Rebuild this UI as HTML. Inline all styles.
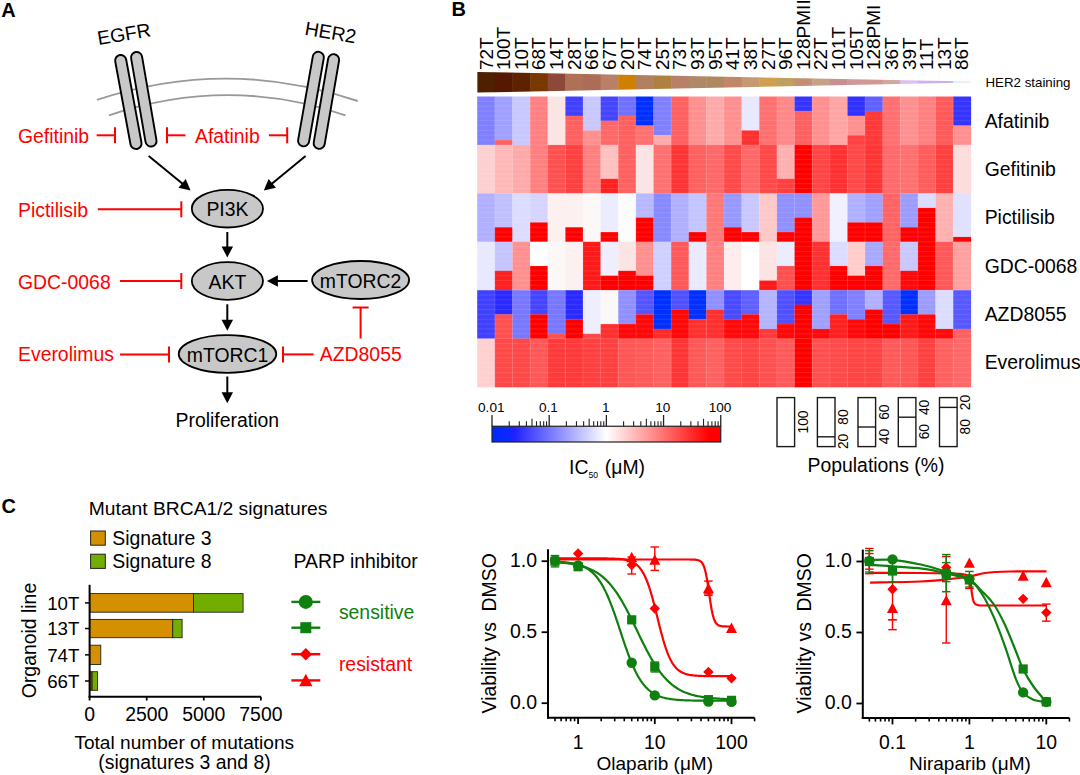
<!DOCTYPE html>
<html><head><meta charset="utf-8"><style>
html,body{margin:0;padding:0;background:#fff;}
svg{display:block;}
text{font-family:"Liberation Sans",sans-serif;}
</style></head><body>
<svg width="1080" height="775" viewBox="0 0 1080 775">
<rect width="1080" height="775" fill="#fff"/>
<text x="1.3" y="16.8" font-size="20" fill="#000" text-anchor="start" font-weight="bold">A</text>
<path d="M97,99.8 Q228,56.8 357.7,101" fill="none" stroke="#999" stroke-width="1.9"/>
<path d="M109,115.3 Q228,75.0 345.5,115.3" fill="none" stroke="#999" stroke-width="1.9"/>
<line x1="120.7" y1="60.5" x2="136" y2="143.5" stroke="#000" stroke-width="13" stroke-linecap="round"/>
<line x1="120.7" y1="60.5" x2="136" y2="143.5" stroke="#c8c8c8" stroke-width="9.2" stroke-linecap="round"/>
<line x1="136.6" y1="57.5" x2="151" y2="141" stroke="#000" stroke-width="13" stroke-linecap="round"/>
<line x1="136.6" y1="57.5" x2="151" y2="141" stroke="#c8c8c8" stroke-width="9.2" stroke-linecap="round"/>
<line x1="318.3" y1="57.3" x2="303.6" y2="140.8" stroke="#000" stroke-width="13" stroke-linecap="round"/>
<line x1="318.3" y1="57.3" x2="303.6" y2="140.8" stroke="#c8c8c8" stroke-width="9.2" stroke-linecap="round"/>
<line x1="333.6" y1="59.7" x2="319.2" y2="143.3" stroke="#000" stroke-width="13" stroke-linecap="round"/>
<line x1="333.6" y1="59.7" x2="319.2" y2="143.3" stroke="#c8c8c8" stroke-width="9.2" stroke-linecap="round"/>
<text x="124.0" y="40.7" font-size="19.4" fill="#000" text-anchor="middle" transform="rotate(-9.5 124.0 34.5)">EGFR</text>
<text x="330.5" y="39.2" font-size="19.4" fill="#000" text-anchor="middle" transform="rotate(9.6 330.5 32.8)">HER2</text>
<text x="18.0" y="142.5" font-size="19.4" fill="#ff0000" text-anchor="start" >Gefitinib</text>
<line x1="96.6" y1="135.3" x2="115.0" y2="135.3" stroke="#f00" stroke-width="2" />
<line x1="115.0" y1="143.3" x2="115.0" y2="127.30000000000001" stroke="#f00" stroke-width="2" />
<line x1="185.4" y1="135.3" x2="167" y2="135.3" stroke="#f00" stroke-width="2" />
<line x1="167.0" y1="127.30000000000001" x2="167.0" y2="143.3" stroke="#f00" stroke-width="2" />
<text x="195.0" y="142.5" font-size="19.4" fill="#ff0000" text-anchor="start" >Afatinib</text>
<line x1="268.9" y1="135.3" x2="287.2" y2="135.3" stroke="#f00" stroke-width="2" />
<line x1="287.2" y1="143.3" x2="287.2" y2="127.30000000000001" stroke="#f00" stroke-width="2" />
<line x1="148.7" y1="156" x2="182.87112209875716" y2="184.0545727970703" stroke="#000" stroke-width="2" />
<path d="M190.60,190.40 L178.45,187.86 L185.75,178.98 Z" fill="#000"/>
<line x1="305.6" y1="156" x2="271.5214348095183" y2="184.04551776441554" stroke="#000" stroke-width="2" />
<path d="M263.80,190.40 L268.64,178.97 L275.95,187.85 Z" fill="#000"/>
<ellipse cx="227.4" cy="208.7" rx="35.6" ry="18.8" fill="#c8c8c8" stroke="#000" stroke-width="1.8"/>
<text x="227.4" y="216.2" font-size="19.4" fill="#000" text-anchor="middle" >PI3K</text>
<text x="18.0" y="216.5" font-size="19.4" fill="#ff0000" text-anchor="start" >Pictilisib</text>
<line x1="97.8" y1="209.3" x2="181.3" y2="209.3" stroke="#f00" stroke-width="2" />
<line x1="181.3" y1="217.3" x2="181.3" y2="201.3" stroke="#f00" stroke-width="2" />
<line x1="227.3" y1="232" x2="227.3" y2="247.39999999999998" stroke="#000" stroke-width="2" />
<path d="M227.30,257.40 L221.55,246.40 L233.05,246.40 Z" fill="#000"/>
<ellipse cx="227.4" cy="281" rx="35.6" ry="18.8" fill="#c8c8c8" stroke="#000" stroke-width="1.8"/>
<text x="227.4" y="288.5" font-size="19.4" fill="#000" text-anchor="middle" >AKT</text>
<text x="18.0" y="289" font-size="19.4" fill="#ff0000" text-anchor="start" >GDC-0068</text>
<line x1="120" y1="281" x2="181.3" y2="281" stroke="#f00" stroke-width="2" />
<line x1="181.3" y1="289.0" x2="181.3" y2="273.0" stroke="#f00" stroke-width="2" />
<ellipse cx="360.6" cy="280" rx="48.5" ry="19" fill="#c8c8c8" stroke="#000" stroke-width="1.8"/>
<text x="360.6" y="287.5" font-size="19.4" fill="#000" text-anchor="middle" >mTORC2</text>
<line x1="307.6" y1="281" x2="276.9" y2="281.0" stroke="#000" stroke-width="2" />
<path d="M266.90,281.00 L277.90,275.25 L277.90,286.75 Z" fill="#000"/>
<line x1="360.6" y1="338.5" x2="360.6" y2="307.5" stroke="#f00" stroke-width="2" />
<line x1="368.6" y1="307.5" x2="352.6" y2="307.5" stroke="#f00" stroke-width="2" />
<line x1="227.3" y1="304.3" x2="227.3" y2="320.7" stroke="#000" stroke-width="2" />
<path d="M227.30,330.70 L221.55,319.70 L233.05,319.70 Z" fill="#000"/>
<ellipse cx="227.5" cy="354" rx="48.8" ry="18.8" fill="#c8c8c8" stroke="#000" stroke-width="1.8"/>
<text x="227.5" y="361.5" font-size="19.4" fill="#000" text-anchor="middle" >mTORC1</text>
<text x="18.0" y="361" font-size="19.4" fill="#ff0000" text-anchor="start" >Everolimus</text>
<line x1="120" y1="354.4" x2="169" y2="354.4" stroke="#f00" stroke-width="2" />
<line x1="169.0" y1="362.4" x2="169.0" y2="346.4" stroke="#f00" stroke-width="2" />
<text x="319.8" y="361" font-size="19.4" fill="#ff0000" text-anchor="start" >AZD8055</text>
<line x1="313.7" y1="354.4" x2="283" y2="354.4" stroke="#f00" stroke-width="2" />
<line x1="283.0" y1="346.4" x2="283.0" y2="362.4" stroke="#f00" stroke-width="2" />
<line x1="227.3" y1="376.5" x2="227.3" y2="393.3" stroke="#000" stroke-width="2" />
<path d="M227.30,403.30 L221.55,392.30 L233.05,392.30 Z" fill="#000"/>
<text x="227.3" y="427.4" font-size="19.4" fill="#000" text-anchor="middle" >Proliferation</text>
<text x="451.5" y="16.2" font-size="20" fill="#000" text-anchor="start" font-weight="bold">B</text>
<text transform="translate(492.51,70.1) rotate(-90)" font-size="19" fill="#000">72T</text>
<text transform="translate(510.14,70.1) rotate(-90)" font-size="19" fill="#000">100T</text>
<text transform="translate(527.77,70.1) rotate(-90)" font-size="19" fill="#000">10T</text>
<text transform="translate(545.40,70.1) rotate(-90)" font-size="19" fill="#000">68T</text>
<text transform="translate(563.03,70.1) rotate(-90)" font-size="19" fill="#000">14T</text>
<text transform="translate(580.66,70.1) rotate(-90)" font-size="19" fill="#000">28T</text>
<text transform="translate(598.29,70.1) rotate(-90)" font-size="19" fill="#000">66T</text>
<text transform="translate(615.91,70.1) rotate(-90)" font-size="19" fill="#000">67T</text>
<text transform="translate(633.54,70.1) rotate(-90)" font-size="19" fill="#000">20T</text>
<text transform="translate(651.17,70.1) rotate(-90)" font-size="19" fill="#000">74T</text>
<text transform="translate(668.80,70.1) rotate(-90)" font-size="19" fill="#000">25T</text>
<text transform="translate(686.43,70.1) rotate(-90)" font-size="19" fill="#000">73T</text>
<text transform="translate(704.06,70.1) rotate(-90)" font-size="19" fill="#000">93T</text>
<text transform="translate(721.69,70.1) rotate(-90)" font-size="19" fill="#000">95T</text>
<text transform="translate(739.31,70.1) rotate(-90)" font-size="19" fill="#000">41T</text>
<text transform="translate(756.94,70.1) rotate(-90)" font-size="19" fill="#000">38T</text>
<text transform="translate(774.57,70.1) rotate(-90)" font-size="19" fill="#000">27T</text>
<text transform="translate(792.20,70.1) rotate(-90)" font-size="19" fill="#000">96T</text>
<text transform="translate(809.83,70.1) rotate(-90)" font-size="19" fill="#000">128PMII</text>
<text transform="translate(827.46,70.1) rotate(-90)" font-size="19" fill="#000">22T</text>
<text transform="translate(845.09,70.1) rotate(-90)" font-size="19" fill="#000">101T</text>
<text transform="translate(862.71,70.1) rotate(-90)" font-size="19" fill="#000">105T</text>
<text transform="translate(880.34,70.1) rotate(-90)" font-size="19" fill="#000">128PMI</text>
<text transform="translate(897.97,70.1) rotate(-90)" font-size="19" fill="#000">36T</text>
<text transform="translate(915.60,70.1) rotate(-90)" font-size="19" fill="#000">39T</text>
<text transform="translate(933.23,70.1) rotate(-90)" font-size="19" fill="#000">11T</text>
<text transform="translate(950.86,70.1) rotate(-90)" font-size="19" fill="#000">13T</text>
<text transform="translate(968.49,70.1) rotate(-90)" font-size="19" fill="#000">86T</text>
<clipPath id="wedge"><polygon points="477.2,71.9 970.8,81.6 970.8,82.6 477.2,92.6"/></clipPath>
<g clip-path="url(#wedge)">
<rect x="477.20" y="70" width="18.03" height="24" fill="#4e2000"/>
<rect x="494.83" y="70" width="18.03" height="24" fill="#561800"/>
<rect x="512.46" y="70" width="18.03" height="24" fill="#5e2200"/>
<rect x="530.09" y="70" width="18.03" height="24" fill="#783800"/>
<rect x="547.71" y="70" width="18.03" height="24" fill="#8c4838"/>
<rect x="565.34" y="70" width="18.03" height="24" fill="#b07058"/>
<rect x="582.97" y="70" width="18.03" height="24" fill="#ac6c58"/>
<rect x="600.60" y="70" width="18.03" height="24" fill="#b88068"/>
<rect x="618.23" y="70" width="18.03" height="24" fill="#d08000"/>
<rect x="635.86" y="70" width="18.03" height="24" fill="#b08060"/>
<rect x="653.49" y="70" width="18.03" height="24" fill="#b08040"/>
<rect x="671.11" y="70" width="18.03" height="24" fill="#b88068"/>
<rect x="688.74" y="70" width="18.03" height="24" fill="#b08868"/>
<rect x="706.37" y="70" width="18.03" height="24" fill="#b08860"/>
<rect x="724.00" y="70" width="18.03" height="24" fill="#c08868"/>
<rect x="741.63" y="70" width="18.03" height="24" fill="#c89870"/>
<rect x="759.26" y="70" width="18.03" height="24" fill="#d0a050"/>
<rect x="776.89" y="70" width="18.03" height="24" fill="#c0a060"/>
<rect x="794.51" y="70" width="18.03" height="24" fill="#c09070"/>
<rect x="812.14" y="70" width="18.03" height="24" fill="#c8a088"/>
<rect x="829.77" y="70" width="18.03" height="24" fill="#c89090"/>
<rect x="847.40" y="70" width="18.03" height="24" fill="#d09898"/>
<rect x="865.03" y="70" width="18.03" height="24" fill="#d09890"/>
<rect x="882.66" y="70" width="18.03" height="24" fill="#d0a8a0"/>
<rect x="900.29" y="70" width="18.03" height="24" fill="#d8c0f0"/>
<rect x="917.91" y="70" width="18.03" height="24" fill="#d0b0f0"/>
<rect x="935.54" y="70" width="18.03" height="24" fill="#c8b0f0"/>
<rect x="953.17" y="70" width="18.03" height="24" fill="#e0e8f0"/>
</g>
<text x="985.5" y="86.9" font-size="13.3" fill="#000" text-anchor="start" >HER2 staining</text>
<rect x="477.20" y="96.50" width="17.93" height="48.72" fill="#8080ff"/>
<rect x="494.83" y="96.50" width="17.93" height="43.88" fill="#a0a0ff"/>
<rect x="494.83" y="140.08" width="17.93" height="5.14" fill="#ff6060"/>
<rect x="512.46" y="96.50" width="17.93" height="48.72" fill="#c8c8ff"/>
<rect x="530.09" y="96.50" width="17.93" height="48.72" fill="#ff8080"/>
<rect x="547.71" y="96.50" width="17.93" height="48.72" fill="#fae4e4"/>
<rect x="565.34" y="96.50" width="17.93" height="19.67" fill="#4040ff"/>
<rect x="565.34" y="115.87" width="17.93" height="29.35" fill="#ff6060"/>
<rect x="582.97" y="96.50" width="17.93" height="34.19" fill="#c8c8ff"/>
<rect x="582.97" y="130.39" width="17.93" height="14.83" fill="#ff9090"/>
<rect x="600.60" y="96.50" width="17.93" height="24.51" fill="#4545ff"/>
<rect x="600.60" y="120.71" width="17.93" height="24.51" fill="#ff6868"/>
<rect x="618.23" y="96.50" width="17.93" height="19.67" fill="#7070ff"/>
<rect x="618.23" y="115.87" width="17.93" height="29.35" fill="#ff6060"/>
<rect x="635.86" y="96.50" width="17.93" height="29.35" fill="#0030ff"/>
<rect x="635.86" y="125.55" width="17.93" height="19.67" fill="#ff7070"/>
<rect x="653.49" y="96.50" width="17.93" height="39.04" fill="#8080ff"/>
<rect x="653.49" y="135.24" width="17.93" height="9.98" fill="#ffaaaa"/>
<rect x="671.11" y="96.50" width="17.93" height="48.72" fill="#ff6060"/>
<rect x="688.74" y="96.50" width="17.93" height="48.72" fill="#ff9090"/>
<rect x="706.37" y="96.50" width="17.93" height="48.72" fill="#ffaaaa"/>
<rect x="724.00" y="96.50" width="17.93" height="48.72" fill="#ff9090"/>
<rect x="741.63" y="96.50" width="17.93" height="34.19" fill="#e8e8ff"/>
<rect x="741.63" y="130.39" width="17.93" height="14.83" fill="#ff3030"/>
<rect x="759.26" y="96.50" width="17.93" height="48.72" fill="#ff7070"/>
<rect x="776.89" y="96.50" width="17.93" height="48.72" fill="#ff8888"/>
<rect x="794.51" y="96.50" width="17.93" height="14.83" fill="#3535ff"/>
<rect x="794.51" y="111.03" width="17.93" height="34.19" fill="#ff6060"/>
<rect x="812.14" y="96.50" width="17.93" height="48.72" fill="#ff9090"/>
<rect x="829.77" y="96.50" width="17.93" height="48.72" fill="#ffa5a5"/>
<rect x="847.40" y="96.50" width="17.93" height="19.67" fill="#3030ff"/>
<rect x="847.40" y="115.87" width="17.93" height="19.67" fill="#ff9090"/>
<rect x="847.40" y="135.24" width="17.93" height="9.98" fill="#ff4040"/>
<rect x="865.03" y="96.50" width="17.93" height="14.83" fill="#6060ff"/>
<rect x="865.03" y="111.03" width="17.93" height="34.19" fill="#ff3838"/>
<rect x="882.66" y="96.50" width="17.93" height="48.72" fill="#ff7070"/>
<rect x="900.29" y="96.50" width="17.93" height="48.72" fill="#ff9090"/>
<rect x="917.91" y="96.50" width="17.93" height="48.72" fill="#ff8080"/>
<rect x="935.54" y="96.50" width="17.93" height="48.72" fill="#ff5a5a"/>
<rect x="953.17" y="96.50" width="17.93" height="29.35" fill="#3535ff"/>
<rect x="953.17" y="125.55" width="17.93" height="19.67" fill="#ff9090"/>
<text x="984.7" y="127.8" font-size="19.4" fill="#000" text-anchor="start" >Afatinib</text>
<rect x="477.20" y="144.92" width="17.93" height="48.72" fill="#fcd0d0"/>
<rect x="494.83" y="144.92" width="17.93" height="48.72" fill="#ffb8b8"/>
<rect x="512.46" y="144.92" width="17.93" height="48.72" fill="#ffaaaa"/>
<rect x="530.09" y="144.92" width="17.93" height="48.72" fill="#ff8080"/>
<rect x="547.71" y="144.92" width="17.93" height="48.72" fill="#ff5050"/>
<rect x="565.34" y="144.92" width="17.93" height="48.72" fill="#ff4040"/>
<rect x="582.97" y="144.92" width="17.93" height="48.72" fill="#ff8080"/>
<rect x="600.60" y="144.92" width="17.93" height="34.19" fill="#ffc0c0"/>
<rect x="600.60" y="178.81" width="17.93" height="14.83" fill="#ff2020"/>
<rect x="618.23" y="144.92" width="17.93" height="48.72" fill="#ff6060"/>
<rect x="635.86" y="144.92" width="17.93" height="48.72" fill="#fbe4e4"/>
<rect x="653.49" y="144.92" width="17.93" height="48.72" fill="#ff7070"/>
<rect x="671.11" y="144.92" width="17.93" height="48.72" fill="#ff3535"/>
<rect x="688.74" y="144.92" width="17.93" height="48.72" fill="#ff6060"/>
<rect x="706.37" y="144.92" width="17.93" height="48.72" fill="#ff6868"/>
<rect x="724.00" y="144.92" width="17.93" height="48.72" fill="#ff4a4a"/>
<rect x="741.63" y="144.92" width="17.93" height="48.72" fill="#ff6868"/>
<rect x="759.26" y="144.92" width="17.93" height="48.72" fill="#ff4848"/>
<rect x="776.89" y="144.92" width="17.93" height="34.19" fill="#ffb0b0"/>
<rect x="776.89" y="178.81" width="17.93" height="14.83" fill="#ff4040"/>
<rect x="794.51" y="144.92" width="17.93" height="48.72" fill="#ff0000"/>
<rect x="812.14" y="144.92" width="17.93" height="48.72" fill="#ff4545"/>
<rect x="829.77" y="144.92" width="17.93" height="48.72" fill="#ff3030"/>
<rect x="847.40" y="144.92" width="17.93" height="48.72" fill="#ff4848"/>
<rect x="865.03" y="144.92" width="17.93" height="48.72" fill="#ff3535"/>
<rect x="882.66" y="144.92" width="17.93" height="48.72" fill="#ff6a6a"/>
<rect x="900.29" y="144.92" width="17.93" height="48.72" fill="#ff7070"/>
<rect x="917.91" y="144.92" width="17.93" height="48.72" fill="#ff5c5c"/>
<rect x="935.54" y="144.92" width="17.93" height="48.72" fill="#ff4040"/>
<rect x="953.17" y="144.92" width="17.93" height="48.72" fill="#fcdcdc"/>
<text x="984.7" y="176.13" font-size="19.4" fill="#000" text-anchor="start" >Gefitinib</text>
<rect x="477.20" y="193.34" width="17.93" height="48.72" fill="#b0b0ff"/>
<rect x="494.83" y="193.34" width="17.93" height="34.19" fill="#c0c0ff"/>
<rect x="494.83" y="227.23" width="17.93" height="14.83" fill="#ff0000"/>
<rect x="512.46" y="193.34" width="17.93" height="48.72" fill="#dcdcff"/>
<rect x="530.09" y="193.34" width="17.93" height="29.35" fill="#d4d4ff"/>
<rect x="530.09" y="222.39" width="17.93" height="19.67" fill="#ff0000"/>
<rect x="547.71" y="193.34" width="17.93" height="48.72" fill="#fff0f0"/>
<rect x="565.34" y="193.34" width="17.93" height="34.19" fill="#fcf0f0"/>
<rect x="565.34" y="227.23" width="17.93" height="14.83" fill="#ff0000"/>
<rect x="582.97" y="193.34" width="17.93" height="48.72" fill="#fcf8f8"/>
<rect x="600.60" y="193.34" width="17.93" height="39.04" fill="#ececff"/>
<rect x="600.60" y="232.08" width="17.93" height="9.98" fill="#ff0000"/>
<rect x="618.23" y="193.34" width="17.93" height="48.72" fill="#fcfcfc"/>
<rect x="635.86" y="193.34" width="17.93" height="24.51" fill="#b8b8ff"/>
<rect x="635.86" y="217.55" width="17.93" height="24.51" fill="#ff0000"/>
<rect x="653.49" y="193.34" width="17.93" height="48.72" fill="#8888ff"/>
<rect x="671.11" y="193.34" width="17.93" height="48.72" fill="#b0b0ff"/>
<rect x="688.74" y="193.34" width="17.93" height="39.04" fill="#c4c4ff"/>
<rect x="688.74" y="232.08" width="17.93" height="9.98" fill="#ff0000"/>
<rect x="706.37" y="193.34" width="17.93" height="48.72" fill="#ff7878"/>
<rect x="724.00" y="193.34" width="17.93" height="34.19" fill="#9898ff"/>
<rect x="724.00" y="227.23" width="17.93" height="14.83" fill="#ff0000"/>
<rect x="741.63" y="193.34" width="17.93" height="39.04" fill="#c8c8ff"/>
<rect x="741.63" y="232.08" width="17.93" height="9.98" fill="#ff0000"/>
<rect x="759.26" y="193.34" width="17.93" height="48.72" fill="#ffc8c8"/>
<rect x="776.89" y="193.34" width="17.93" height="39.04" fill="#9090ff"/>
<rect x="776.89" y="232.08" width="17.93" height="9.98" fill="#ff0000"/>
<rect x="794.51" y="193.34" width="17.93" height="24.51" fill="#9090ff"/>
<rect x="794.51" y="217.55" width="17.93" height="24.51" fill="#ff0000"/>
<rect x="812.14" y="193.34" width="17.93" height="48.72" fill="#ff9898"/>
<rect x="829.77" y="193.34" width="17.93" height="48.72" fill="#f0f0ff"/>
<rect x="847.40" y="193.34" width="17.93" height="29.35" fill="#b0b0ff"/>
<rect x="847.40" y="222.39" width="17.93" height="19.67" fill="#ff0000"/>
<rect x="865.03" y="193.34" width="17.93" height="29.35" fill="#a0a0ff"/>
<rect x="865.03" y="222.39" width="17.93" height="19.67" fill="#ff0000"/>
<rect x="882.66" y="193.34" width="17.93" height="48.72" fill="#ff6464"/>
<rect x="900.29" y="193.34" width="17.93" height="34.19" fill="#9c9cff"/>
<rect x="900.29" y="227.23" width="17.93" height="14.83" fill="#ff0000"/>
<rect x="917.91" y="193.34" width="17.93" height="14.83" fill="#dcdcff"/>
<rect x="917.91" y="207.87" width="17.93" height="34.19" fill="#ff0000"/>
<rect x="935.54" y="193.34" width="17.93" height="48.72" fill="#ffb0b0"/>
<rect x="953.17" y="193.34" width="17.93" height="43.88" fill="#e0e0ff"/>
<rect x="953.17" y="236.92" width="17.93" height="5.14" fill="#ff0000"/>
<text x="984.7" y="224.45999999999998" font-size="19.4" fill="#000" text-anchor="start" >Pictilisib</text>
<rect x="477.20" y="241.76" width="17.93" height="48.72" fill="#e8e8ff"/>
<rect x="494.83" y="241.76" width="17.93" height="29.35" fill="#c4c4ff"/>
<rect x="494.83" y="270.81" width="17.93" height="19.67" fill="#ff2020"/>
<rect x="512.46" y="241.76" width="17.93" height="48.72" fill="#ff9090"/>
<rect x="530.09" y="241.76" width="17.93" height="24.51" fill="#ffffff"/>
<rect x="530.09" y="265.97" width="17.93" height="24.51" fill="#ff0000"/>
<rect x="547.71" y="241.76" width="17.93" height="48.72" fill="#fcf8f8"/>
<rect x="565.34" y="241.76" width="17.93" height="48.72" fill="#fcf0f0"/>
<rect x="582.97" y="241.76" width="17.93" height="48.72" fill="#ff1a1a"/>
<rect x="600.60" y="241.76" width="17.93" height="34.19" fill="#eeeeff"/>
<rect x="600.60" y="275.65" width="17.93" height="14.83" fill="#ff0000"/>
<rect x="618.23" y="241.76" width="17.93" height="29.35" fill="#fbe4e4"/>
<rect x="618.23" y="270.81" width="17.93" height="19.67" fill="#ff0000"/>
<rect x="635.86" y="241.76" width="17.93" height="34.19" fill="#ff9090"/>
<rect x="635.86" y="275.65" width="17.93" height="14.83" fill="#ff0000"/>
<rect x="653.49" y="241.76" width="17.93" height="48.72" fill="#d0d0ff"/>
<rect x="671.11" y="241.76" width="17.93" height="48.72" fill="#ff5858"/>
<rect x="688.74" y="241.76" width="17.93" height="48.72" fill="#eaeaff"/>
<rect x="706.37" y="241.76" width="17.93" height="48.72" fill="#ff8080"/>
<rect x="724.00" y="241.76" width="17.93" height="48.72" fill="#ffecec"/>
<rect x="741.63" y="241.76" width="17.93" height="48.72" fill="#ffffff"/>
<rect x="759.26" y="241.76" width="17.93" height="39.04" fill="#fce4e4"/>
<rect x="759.26" y="280.50" width="17.93" height="9.98" fill="#ff1a1a"/>
<rect x="776.89" y="241.76" width="17.93" height="24.51" fill="#ececff"/>
<rect x="776.89" y="265.97" width="17.93" height="24.51" fill="#ff5050"/>
<rect x="794.51" y="241.76" width="17.93" height="48.72" fill="#ff0000"/>
<rect x="812.14" y="241.76" width="17.93" height="48.72" fill="#ff3030"/>
<rect x="829.77" y="241.76" width="17.93" height="24.51" fill="#dcdcff"/>
<rect x="829.77" y="265.97" width="17.93" height="24.51" fill="#ff0000"/>
<rect x="847.40" y="241.76" width="17.93" height="34.19" fill="#ffcccc"/>
<rect x="847.40" y="275.65" width="17.93" height="14.83" fill="#ff0000"/>
<rect x="865.03" y="241.76" width="17.93" height="24.51" fill="#a8a8ff"/>
<rect x="865.03" y="265.97" width="17.93" height="24.51" fill="#ff0000"/>
<rect x="882.66" y="241.76" width="17.93" height="48.72" fill="#ff6a6a"/>
<rect x="900.29" y="241.76" width="17.93" height="29.35" fill="#c8c8ff"/>
<rect x="900.29" y="270.81" width="17.93" height="19.67" fill="#ff0a0a"/>
<rect x="917.91" y="241.76" width="17.93" height="48.72" fill="#ff0000"/>
<rect x="935.54" y="241.76" width="17.93" height="48.72" fill="#ff5858"/>
<rect x="953.17" y="241.76" width="17.93" height="48.72" fill="#ffa0a0"/>
<text x="984.7" y="272.79" font-size="19.4" fill="#000" text-anchor="start" >GDC-0068</text>
<rect x="477.20" y="290.18" width="17.93" height="48.72" fill="#4040ff"/>
<rect x="494.83" y="290.18" width="17.93" height="24.51" fill="#2a2aff"/>
<rect x="494.83" y="314.39" width="17.93" height="24.51" fill="#ff5050"/>
<rect x="512.46" y="290.18" width="17.93" height="48.72" fill="#7878ff"/>
<rect x="530.09" y="290.18" width="17.93" height="24.51" fill="#4545ff"/>
<rect x="530.09" y="314.39" width="17.93" height="24.51" fill="#ff0000"/>
<rect x="547.71" y="290.18" width="17.93" height="43.88" fill="#7878ff"/>
<rect x="547.71" y="333.76" width="17.93" height="5.14" fill="#ff5050"/>
<rect x="565.34" y="290.18" width="17.93" height="29.35" fill="#2a2aff"/>
<rect x="565.34" y="319.23" width="17.93" height="19.67" fill="#ff0000"/>
<rect x="582.97" y="290.18" width="17.93" height="43.88" fill="#eeeeff"/>
<rect x="582.97" y="333.76" width="17.93" height="5.14" fill="#ff4848"/>
<rect x="600.60" y="290.18" width="17.93" height="34.19" fill="#fcf8f8"/>
<rect x="600.60" y="324.07" width="17.93" height="14.83" fill="#ff3030"/>
<rect x="618.23" y="290.18" width="17.93" height="34.19" fill="#9090ff"/>
<rect x="618.23" y="324.07" width="17.93" height="14.83" fill="#ff0808"/>
<rect x="635.86" y="290.18" width="17.93" height="24.51" fill="#5555ff"/>
<rect x="635.86" y="314.39" width="17.93" height="24.51" fill="#ff0808"/>
<rect x="653.49" y="290.18" width="17.93" height="39.04" fill="#0030ff"/>
<rect x="653.49" y="328.92" width="17.93" height="9.98" fill="#ff2a2a"/>
<rect x="671.11" y="290.18" width="17.93" height="19.67" fill="#5050ff"/>
<rect x="671.11" y="309.55" width="17.93" height="29.35" fill="#ff0808"/>
<rect x="688.74" y="290.18" width="17.93" height="29.35" fill="#0030ff"/>
<rect x="688.74" y="319.23" width="17.93" height="19.67" fill="#ff3030"/>
<rect x="706.37" y="290.18" width="17.93" height="19.67" fill="#9090ff"/>
<rect x="706.37" y="309.55" width="17.93" height="29.35" fill="#ff3030"/>
<rect x="724.00" y="290.18" width="17.93" height="29.35" fill="#4a4aff"/>
<rect x="724.00" y="319.23" width="17.93" height="19.67" fill="#ff0a0a"/>
<rect x="741.63" y="290.18" width="17.93" height="24.51" fill="#6060ff"/>
<rect x="741.63" y="314.39" width="17.93" height="24.51" fill="#ff0a0a"/>
<rect x="759.26" y="290.18" width="17.93" height="39.04" fill="#b4b4ff"/>
<rect x="759.26" y="328.92" width="17.93" height="9.98" fill="#ff3a3a"/>
<rect x="776.89" y="290.18" width="17.93" height="34.19" fill="#5050ff"/>
<rect x="776.89" y="324.07" width="17.93" height="14.83" fill="#ff0808"/>
<rect x="794.51" y="290.18" width="17.93" height="14.83" fill="#3535ff"/>
<rect x="794.51" y="304.71" width="17.93" height="34.19" fill="#ff0000"/>
<rect x="812.14" y="290.18" width="17.93" height="39.04" fill="#a0a0ff"/>
<rect x="812.14" y="328.92" width="17.93" height="9.98" fill="#ff0a0a"/>
<rect x="829.77" y="290.18" width="17.93" height="24.51" fill="#7070ff"/>
<rect x="829.77" y="314.39" width="17.93" height="24.51" fill="#ff2020"/>
<rect x="847.40" y="290.18" width="17.93" height="29.35" fill="#8080ff"/>
<rect x="847.40" y="319.23" width="17.93" height="19.67" fill="#ff0a0a"/>
<rect x="865.03" y="290.18" width="17.93" height="19.67" fill="#b0b0ff"/>
<rect x="865.03" y="309.55" width="17.93" height="29.35" fill="#ff0000"/>
<rect x="882.66" y="290.18" width="17.93" height="34.19" fill="#5858ff"/>
<rect x="882.66" y="324.07" width="17.93" height="14.83" fill="#ff0000"/>
<rect x="900.29" y="290.18" width="17.93" height="24.51" fill="#0030ff"/>
<rect x="900.29" y="314.39" width="17.93" height="24.51" fill="#ff1a1a"/>
<rect x="917.91" y="290.18" width="17.93" height="24.51" fill="#9c9cff"/>
<rect x="917.91" y="314.39" width="17.93" height="24.51" fill="#ff0808"/>
<rect x="935.54" y="290.18" width="17.93" height="39.04" fill="#dcdcff"/>
<rect x="935.54" y="328.92" width="17.93" height="9.98" fill="#ff0a0a"/>
<rect x="953.17" y="290.18" width="17.93" height="39.04" fill="#5858ff"/>
<rect x="953.17" y="328.92" width="17.93" height="9.98" fill="#ff6060"/>
<text x="984.7" y="321.12" font-size="19.4" fill="#000" text-anchor="start" >AZD8055</text>
<rect x="477.20" y="338.60" width="17.93" height="48.72" fill="#ffd0d0"/>
<rect x="494.83" y="338.60" width="17.93" height="48.72" fill="#ff4848"/>
<rect x="512.46" y="338.60" width="17.93" height="48.72" fill="#ff4848"/>
<rect x="530.09" y="338.60" width="17.93" height="48.72" fill="#ff5858"/>
<rect x="547.71" y="338.60" width="17.93" height="48.72" fill="#ff3a3a"/>
<rect x="565.34" y="338.60" width="17.93" height="48.72" fill="#ff3a3a"/>
<rect x="582.97" y="338.60" width="17.93" height="48.72" fill="#ff4040"/>
<rect x="600.60" y="338.60" width="17.93" height="48.72" fill="#ff4040"/>
<rect x="618.23" y="338.60" width="17.93" height="48.72" fill="#ff5656"/>
<rect x="635.86" y="338.60" width="17.93" height="48.72" fill="#ff5a5a"/>
<rect x="653.49" y="338.60" width="17.93" height="48.72" fill="#ff6060"/>
<rect x="671.11" y="338.60" width="17.93" height="48.72" fill="#ff3535"/>
<rect x="688.74" y="338.60" width="17.93" height="48.72" fill="#ff5858"/>
<rect x="706.37" y="338.60" width="17.93" height="48.72" fill="#ff6060"/>
<rect x="724.00" y="338.60" width="17.93" height="48.72" fill="#ff4a4a"/>
<rect x="741.63" y="338.60" width="17.93" height="48.72" fill="#ff4444"/>
<rect x="759.26" y="338.60" width="17.93" height="48.72" fill="#ff5050"/>
<rect x="776.89" y="338.60" width="17.93" height="48.72" fill="#ff5a5a"/>
<rect x="794.51" y="338.60" width="17.93" height="48.72" fill="#ff0000"/>
<rect x="812.14" y="338.60" width="17.93" height="48.72" fill="#ff5050"/>
<rect x="829.77" y="338.60" width="17.93" height="48.72" fill="#ff4a4a"/>
<rect x="847.40" y="338.60" width="17.93" height="48.72" fill="#ff4444"/>
<rect x="865.03" y="338.60" width="17.93" height="48.72" fill="#ff4444"/>
<rect x="882.66" y="338.60" width="17.93" height="48.72" fill="#ff5a5a"/>
<rect x="900.29" y="338.60" width="17.93" height="48.72" fill="#ff5656"/>
<rect x="917.91" y="338.60" width="17.93" height="48.72" fill="#ff4040"/>
<rect x="935.54" y="338.60" width="17.93" height="48.72" fill="#ff6060"/>
<rect x="953.17" y="338.60" width="17.93" height="48.72" fill="#ff6868"/>
<text x="984.7" y="369.45" font-size="19.4" fill="#000" text-anchor="start" >Everolimus</text>
<line x1="477.2" y1="101.34" x2="970.8" y2="101.34" stroke="#fff" stroke-opacity="0.1" stroke-width="1"/>
<line x1="477.2" y1="106.18" x2="970.8" y2="106.18" stroke="#fff" stroke-opacity="0.1" stroke-width="1"/>
<line x1="477.2" y1="111.03" x2="970.8" y2="111.03" stroke="#fff" stroke-opacity="0.1" stroke-width="1"/>
<line x1="477.2" y1="115.87" x2="970.8" y2="115.87" stroke="#fff" stroke-opacity="0.1" stroke-width="1"/>
<line x1="477.2" y1="120.71" x2="970.8" y2="120.71" stroke="#fff" stroke-opacity="0.1" stroke-width="1"/>
<line x1="477.2" y1="125.55" x2="970.8" y2="125.55" stroke="#fff" stroke-opacity="0.1" stroke-width="1"/>
<line x1="477.2" y1="130.39" x2="970.8" y2="130.39" stroke="#fff" stroke-opacity="0.1" stroke-width="1"/>
<line x1="477.2" y1="135.24" x2="970.8" y2="135.24" stroke="#fff" stroke-opacity="0.1" stroke-width="1"/>
<line x1="477.2" y1="140.08" x2="970.8" y2="140.08" stroke="#fff" stroke-opacity="0.1" stroke-width="1"/>
<line x1="477.2" y1="144.92" x2="970.8" y2="144.92" stroke="#fff" stroke-opacity="0.1" stroke-width="1"/>
<line x1="477.2" y1="149.76" x2="970.8" y2="149.76" stroke="#fff" stroke-opacity="0.1" stroke-width="1"/>
<line x1="477.2" y1="154.60" x2="970.8" y2="154.60" stroke="#fff" stroke-opacity="0.1" stroke-width="1"/>
<line x1="477.2" y1="159.45" x2="970.8" y2="159.45" stroke="#fff" stroke-opacity="0.1" stroke-width="1"/>
<line x1="477.2" y1="164.29" x2="970.8" y2="164.29" stroke="#fff" stroke-opacity="0.1" stroke-width="1"/>
<line x1="477.2" y1="169.13" x2="970.8" y2="169.13" stroke="#fff" stroke-opacity="0.1" stroke-width="1"/>
<line x1="477.2" y1="173.97" x2="970.8" y2="173.97" stroke="#fff" stroke-opacity="0.1" stroke-width="1"/>
<line x1="477.2" y1="178.81" x2="970.8" y2="178.81" stroke="#fff" stroke-opacity="0.1" stroke-width="1"/>
<line x1="477.2" y1="183.66" x2="970.8" y2="183.66" stroke="#fff" stroke-opacity="0.1" stroke-width="1"/>
<line x1="477.2" y1="188.50" x2="970.8" y2="188.50" stroke="#fff" stroke-opacity="0.1" stroke-width="1"/>
<line x1="477.2" y1="193.34" x2="970.8" y2="193.34" stroke="#fff" stroke-opacity="0.1" stroke-width="1"/>
<line x1="477.2" y1="198.18" x2="970.8" y2="198.18" stroke="#fff" stroke-opacity="0.1" stroke-width="1"/>
<line x1="477.2" y1="203.02" x2="970.8" y2="203.02" stroke="#fff" stroke-opacity="0.1" stroke-width="1"/>
<line x1="477.2" y1="207.87" x2="970.8" y2="207.87" stroke="#fff" stroke-opacity="0.1" stroke-width="1"/>
<line x1="477.2" y1="212.71" x2="970.8" y2="212.71" stroke="#fff" stroke-opacity="0.1" stroke-width="1"/>
<line x1="477.2" y1="217.55" x2="970.8" y2="217.55" stroke="#fff" stroke-opacity="0.1" stroke-width="1"/>
<line x1="477.2" y1="222.39" x2="970.8" y2="222.39" stroke="#fff" stroke-opacity="0.1" stroke-width="1"/>
<line x1="477.2" y1="227.23" x2="970.8" y2="227.23" stroke="#fff" stroke-opacity="0.1" stroke-width="1"/>
<line x1="477.2" y1="232.08" x2="970.8" y2="232.08" stroke="#fff" stroke-opacity="0.1" stroke-width="1"/>
<line x1="477.2" y1="236.92" x2="970.8" y2="236.92" stroke="#fff" stroke-opacity="0.1" stroke-width="1"/>
<line x1="477.2" y1="241.76" x2="970.8" y2="241.76" stroke="#fff" stroke-opacity="0.1" stroke-width="1"/>
<line x1="477.2" y1="246.60" x2="970.8" y2="246.60" stroke="#fff" stroke-opacity="0.1" stroke-width="1"/>
<line x1="477.2" y1="251.44" x2="970.8" y2="251.44" stroke="#fff" stroke-opacity="0.1" stroke-width="1"/>
<line x1="477.2" y1="256.29" x2="970.8" y2="256.29" stroke="#fff" stroke-opacity="0.1" stroke-width="1"/>
<line x1="477.2" y1="261.13" x2="970.8" y2="261.13" stroke="#fff" stroke-opacity="0.1" stroke-width="1"/>
<line x1="477.2" y1="265.97" x2="970.8" y2="265.97" stroke="#fff" stroke-opacity="0.1" stroke-width="1"/>
<line x1="477.2" y1="270.81" x2="970.8" y2="270.81" stroke="#fff" stroke-opacity="0.1" stroke-width="1"/>
<line x1="477.2" y1="275.65" x2="970.8" y2="275.65" stroke="#fff" stroke-opacity="0.1" stroke-width="1"/>
<line x1="477.2" y1="280.50" x2="970.8" y2="280.50" stroke="#fff" stroke-opacity="0.1" stroke-width="1"/>
<line x1="477.2" y1="285.34" x2="970.8" y2="285.34" stroke="#fff" stroke-opacity="0.1" stroke-width="1"/>
<line x1="477.2" y1="290.18" x2="970.8" y2="290.18" stroke="#fff" stroke-opacity="0.1" stroke-width="1"/>
<line x1="477.2" y1="295.02" x2="970.8" y2="295.02" stroke="#fff" stroke-opacity="0.1" stroke-width="1"/>
<line x1="477.2" y1="299.86" x2="970.8" y2="299.86" stroke="#fff" stroke-opacity="0.1" stroke-width="1"/>
<line x1="477.2" y1="304.71" x2="970.8" y2="304.71" stroke="#fff" stroke-opacity="0.1" stroke-width="1"/>
<line x1="477.2" y1="309.55" x2="970.8" y2="309.55" stroke="#fff" stroke-opacity="0.1" stroke-width="1"/>
<line x1="477.2" y1="314.39" x2="970.8" y2="314.39" stroke="#fff" stroke-opacity="0.1" stroke-width="1"/>
<line x1="477.2" y1="319.23" x2="970.8" y2="319.23" stroke="#fff" stroke-opacity="0.1" stroke-width="1"/>
<line x1="477.2" y1="324.07" x2="970.8" y2="324.07" stroke="#fff" stroke-opacity="0.1" stroke-width="1"/>
<line x1="477.2" y1="328.92" x2="970.8" y2="328.92" stroke="#fff" stroke-opacity="0.1" stroke-width="1"/>
<line x1="477.2" y1="333.76" x2="970.8" y2="333.76" stroke="#fff" stroke-opacity="0.1" stroke-width="1"/>
<line x1="477.2" y1="338.60" x2="970.8" y2="338.60" stroke="#fff" stroke-opacity="0.1" stroke-width="1"/>
<line x1="477.2" y1="343.44" x2="970.8" y2="343.44" stroke="#fff" stroke-opacity="0.1" stroke-width="1"/>
<line x1="477.2" y1="348.28" x2="970.8" y2="348.28" stroke="#fff" stroke-opacity="0.1" stroke-width="1"/>
<line x1="477.2" y1="353.13" x2="970.8" y2="353.13" stroke="#fff" stroke-opacity="0.1" stroke-width="1"/>
<line x1="477.2" y1="357.97" x2="970.8" y2="357.97" stroke="#fff" stroke-opacity="0.1" stroke-width="1"/>
<line x1="477.2" y1="362.81" x2="970.8" y2="362.81" stroke="#fff" stroke-opacity="0.1" stroke-width="1"/>
<line x1="477.2" y1="367.65" x2="970.8" y2="367.65" stroke="#fff" stroke-opacity="0.1" stroke-width="1"/>
<line x1="477.2" y1="372.49" x2="970.8" y2="372.49" stroke="#fff" stroke-opacity="0.1" stroke-width="1"/>
<line x1="477.2" y1="377.34" x2="970.8" y2="377.34" stroke="#fff" stroke-opacity="0.1" stroke-width="1"/>
<line x1="477.2" y1="382.18" x2="970.8" y2="382.18" stroke="#fff" stroke-opacity="0.1" stroke-width="1"/>
<line x1="494.83" y1="96.5" x2="494.83" y2="387.02" stroke="#fff" stroke-opacity="0.12" stroke-width="1"/>
<line x1="512.46" y1="96.5" x2="512.46" y2="387.02" stroke="#fff" stroke-opacity="0.12" stroke-width="1"/>
<line x1="530.09" y1="96.5" x2="530.09" y2="387.02" stroke="#fff" stroke-opacity="0.12" stroke-width="1"/>
<line x1="547.71" y1="96.5" x2="547.71" y2="387.02" stroke="#fff" stroke-opacity="0.12" stroke-width="1"/>
<line x1="565.34" y1="96.5" x2="565.34" y2="387.02" stroke="#fff" stroke-opacity="0.12" stroke-width="1"/>
<line x1="582.97" y1="96.5" x2="582.97" y2="387.02" stroke="#fff" stroke-opacity="0.12" stroke-width="1"/>
<line x1="600.60" y1="96.5" x2="600.60" y2="387.02" stroke="#fff" stroke-opacity="0.12" stroke-width="1"/>
<line x1="618.23" y1="96.5" x2="618.23" y2="387.02" stroke="#fff" stroke-opacity="0.12" stroke-width="1"/>
<line x1="635.86" y1="96.5" x2="635.86" y2="387.02" stroke="#fff" stroke-opacity="0.12" stroke-width="1"/>
<line x1="653.49" y1="96.5" x2="653.49" y2="387.02" stroke="#fff" stroke-opacity="0.12" stroke-width="1"/>
<line x1="671.11" y1="96.5" x2="671.11" y2="387.02" stroke="#fff" stroke-opacity="0.12" stroke-width="1"/>
<line x1="688.74" y1="96.5" x2="688.74" y2="387.02" stroke="#fff" stroke-opacity="0.12" stroke-width="1"/>
<line x1="706.37" y1="96.5" x2="706.37" y2="387.02" stroke="#fff" stroke-opacity="0.12" stroke-width="1"/>
<line x1="724.00" y1="96.5" x2="724.00" y2="387.02" stroke="#fff" stroke-opacity="0.12" stroke-width="1"/>
<line x1="741.63" y1="96.5" x2="741.63" y2="387.02" stroke="#fff" stroke-opacity="0.12" stroke-width="1"/>
<line x1="759.26" y1="96.5" x2="759.26" y2="387.02" stroke="#fff" stroke-opacity="0.12" stroke-width="1"/>
<line x1="776.89" y1="96.5" x2="776.89" y2="387.02" stroke="#fff" stroke-opacity="0.12" stroke-width="1"/>
<line x1="794.51" y1="96.5" x2="794.51" y2="387.02" stroke="#fff" stroke-opacity="0.12" stroke-width="1"/>
<line x1="812.14" y1="96.5" x2="812.14" y2="387.02" stroke="#fff" stroke-opacity="0.12" stroke-width="1"/>
<line x1="829.77" y1="96.5" x2="829.77" y2="387.02" stroke="#fff" stroke-opacity="0.12" stroke-width="1"/>
<line x1="847.40" y1="96.5" x2="847.40" y2="387.02" stroke="#fff" stroke-opacity="0.12" stroke-width="1"/>
<line x1="865.03" y1="96.5" x2="865.03" y2="387.02" stroke="#fff" stroke-opacity="0.12" stroke-width="1"/>
<line x1="882.66" y1="96.5" x2="882.66" y2="387.02" stroke="#fff" stroke-opacity="0.12" stroke-width="1"/>
<line x1="900.29" y1="96.5" x2="900.29" y2="387.02" stroke="#fff" stroke-opacity="0.12" stroke-width="1"/>
<line x1="917.91" y1="96.5" x2="917.91" y2="387.02" stroke="#fff" stroke-opacity="0.12" stroke-width="1"/>
<line x1="935.54" y1="96.5" x2="935.54" y2="387.02" stroke="#fff" stroke-opacity="0.12" stroke-width="1"/>
<line x1="953.17" y1="96.5" x2="953.17" y2="387.02" stroke="#fff" stroke-opacity="0.12" stroke-width="1"/>
<linearGradient id="cb" x1="0" y1="0" x2="1" y2="0"><stop offset="0" stop-color="#0028ff"/><stop offset="0.07" stop-color="#0a28ff"/><stop offset="0.1" stop-color="#2222ff"/><stop offset="0.5" stop-color="#ffffff"/><stop offset="0.95" stop-color="#ff0000"/><stop offset="1" stop-color="#ff0000"/></linearGradient>
<rect x="492.0" y="426.25" width="228.75" height="15.75" fill="url(#cb)" stroke="#222" stroke-width="1.2"/>
<line x1="509.22" y1="421.2" x2="509.22" y2="426.25" stroke="#222" stroke-width="1.1" />
<line x1="519.29" y1="421.2" x2="519.29" y2="426.25" stroke="#222" stroke-width="1.1" />
<line x1="526.43" y1="421.2" x2="526.43" y2="426.25" stroke="#222" stroke-width="1.1" />
<line x1="531.97" y1="418.8" x2="531.97" y2="426.25" stroke="#222" stroke-width="1.1" />
<line x1="536.50" y1="421.2" x2="536.50" y2="426.25" stroke="#222" stroke-width="1.1" />
<line x1="540.33" y1="421.2" x2="540.33" y2="426.25" stroke="#222" stroke-width="1.1" />
<line x1="543.65" y1="421.2" x2="543.65" y2="426.25" stroke="#222" stroke-width="1.1" />
<line x1="546.57" y1="421.2" x2="546.57" y2="426.25" stroke="#222" stroke-width="1.1" />
<line x1="566.40" y1="421.2" x2="566.40" y2="426.25" stroke="#222" stroke-width="1.1" />
<line x1="576.47" y1="421.2" x2="576.47" y2="426.25" stroke="#222" stroke-width="1.1" />
<line x1="583.62" y1="421.2" x2="583.62" y2="426.25" stroke="#222" stroke-width="1.1" />
<line x1="589.16" y1="418.8" x2="589.16" y2="426.25" stroke="#222" stroke-width="1.1" />
<line x1="593.69" y1="421.2" x2="593.69" y2="426.25" stroke="#222" stroke-width="1.1" />
<line x1="597.52" y1="421.2" x2="597.52" y2="426.25" stroke="#222" stroke-width="1.1" />
<line x1="600.83" y1="421.2" x2="600.83" y2="426.25" stroke="#222" stroke-width="1.1" />
<line x1="603.76" y1="421.2" x2="603.76" y2="426.25" stroke="#222" stroke-width="1.1" />
<line x1="623.59" y1="421.2" x2="623.59" y2="426.25" stroke="#222" stroke-width="1.1" />
<line x1="633.66" y1="421.2" x2="633.66" y2="426.25" stroke="#222" stroke-width="1.1" />
<line x1="640.81" y1="421.2" x2="640.81" y2="426.25" stroke="#222" stroke-width="1.1" />
<line x1="646.35" y1="418.8" x2="646.35" y2="426.25" stroke="#222" stroke-width="1.1" />
<line x1="650.88" y1="421.2" x2="650.88" y2="426.25" stroke="#222" stroke-width="1.1" />
<line x1="654.70" y1="421.2" x2="654.70" y2="426.25" stroke="#222" stroke-width="1.1" />
<line x1="658.02" y1="421.2" x2="658.02" y2="426.25" stroke="#222" stroke-width="1.1" />
<line x1="660.95" y1="421.2" x2="660.95" y2="426.25" stroke="#222" stroke-width="1.1" />
<line x1="680.78" y1="421.2" x2="680.78" y2="426.25" stroke="#222" stroke-width="1.1" />
<line x1="690.85" y1="421.2" x2="690.85" y2="426.25" stroke="#222" stroke-width="1.1" />
<line x1="697.99" y1="421.2" x2="697.99" y2="426.25" stroke="#222" stroke-width="1.1" />
<line x1="703.53" y1="418.8" x2="703.53" y2="426.25" stroke="#222" stroke-width="1.1" />
<line x1="708.06" y1="421.2" x2="708.06" y2="426.25" stroke="#222" stroke-width="1.1" />
<line x1="711.89" y1="421.2" x2="711.89" y2="426.25" stroke="#222" stroke-width="1.1" />
<line x1="715.21" y1="421.2" x2="715.21" y2="426.25" stroke="#222" stroke-width="1.1" />
<line x1="718.13" y1="421.2" x2="718.13" y2="426.25" stroke="#222" stroke-width="1.1" />
<line x1="492.00" y1="415" x2="492.00" y2="426.25" stroke="#222" stroke-width="1.3" />
<line x1="549.19" y1="415" x2="549.19" y2="426.25" stroke="#222" stroke-width="1.3" />
<line x1="606.38" y1="415" x2="606.38" y2="426.25" stroke="#222" stroke-width="1.3" />
<line x1="663.56" y1="415" x2="663.56" y2="426.25" stroke="#222" stroke-width="1.3" />
<line x1="720.75" y1="415" x2="720.75" y2="426.25" stroke="#222" stroke-width="1.3" />
<text x="491.30" y="412" font-size="13.6" fill="#000" text-anchor="middle" >0.01</text>
<text x="548.49" y="412" font-size="13.6" fill="#000" text-anchor="middle" >0.1</text>
<text x="605.67" y="412" font-size="13.6" fill="#000" text-anchor="middle" >1</text>
<text x="662.86" y="412" font-size="13.6" fill="#000" text-anchor="middle" >10</text>
<text x="720.05" y="412" font-size="13.6" fill="#000" text-anchor="middle" >100</text>
<text x="569" y="473.75" font-size="19.4" fill="#000">IC<tspan font-size="8.6" dy="3.9">50</tspan><tspan dy="-3.9" dx="1.4"> (μM)</tspan></text>
<rect x="777" y="397.6" width="17.6" height="49.0" fill="none" stroke="#1a1a1a" stroke-width="1.4"/>
<text transform="translate(807.9,422) rotate(-90)" font-size="13.8" fill="#000" text-anchor="middle">100</text>
<rect x="817.4" y="397.6" width="17.6" height="49.0" fill="none" stroke="#1a1a1a" stroke-width="1.4"/>
<line x1="817.4" y1="436.80" x2="835.0" y2="436.80" stroke="#1a1a1a" stroke-width="1.4" />
<text transform="translate(847.8,417.1) rotate(-90)" font-size="13.8" fill="#000" text-anchor="middle">80</text>
<text transform="translate(847.8,441.4) rotate(-90)" font-size="13.8" fill="#000" text-anchor="middle">20</text>
<rect x="858" y="397.6" width="17.6" height="49.0" fill="none" stroke="#1a1a1a" stroke-width="1.4"/>
<line x1="858" y1="427.00" x2="875.6" y2="427.00" stroke="#1a1a1a" stroke-width="1.4" />
<text transform="translate(888.6,412.2) rotate(-90)" font-size="13.8" fill="#000" text-anchor="middle">60</text>
<text transform="translate(888.6,436.5) rotate(-90)" font-size="13.8" fill="#000" text-anchor="middle">40</text>
<rect x="898.3" y="397.6" width="17.6" height="49.0" fill="none" stroke="#1a1a1a" stroke-width="1.4"/>
<line x1="898.3" y1="417.20" x2="915.9" y2="417.20" stroke="#1a1a1a" stroke-width="1.4" />
<text transform="translate(929,407.4) rotate(-90)" font-size="13.8" fill="#000" text-anchor="middle">40</text>
<text transform="translate(929,431.7) rotate(-90)" font-size="13.8" fill="#000" text-anchor="middle">60</text>
<rect x="939.5" y="397.6" width="17.6" height="49.0" fill="none" stroke="#1a1a1a" stroke-width="1.4"/>
<line x1="939.5" y1="407.40" x2="957.1" y2="407.40" stroke="#1a1a1a" stroke-width="1.4" />
<text transform="translate(970.3,402.5) rotate(-90)" font-size="13.8" fill="#000" text-anchor="middle">20</text>
<text transform="translate(970.3,426.8) rotate(-90)" font-size="13.8" fill="#000" text-anchor="middle">80</text>
<text x="807.5" y="471.5" font-size="19.4" fill="#000" text-anchor="start" >Populations (%)</text>
<text x="1.5" y="513.3" font-size="20" fill="#000" text-anchor="start" font-weight="bold">C</text>
<text x="88.8" y="515.2" font-size="19.25" fill="#000" text-anchor="start" >Mutant BRCA1/2 signatures</text>
<rect x="90.6" y="531" width="14.7" height="14.2" fill="#d49000" stroke="#222" stroke-width="1"/>
<rect x="90.6" y="554.2" width="14.7" height="14.2" fill="#71ae00" stroke="#222" stroke-width="1"/>
<text x="112.3" y="544.6" font-size="19.4" fill="#000" text-anchor="start" >Signature 3</text>
<text x="112.3" y="567.8" font-size="19.4" fill="#000" text-anchor="start" >Signature 8</text>
<text x="293.5" y="567.8" font-size="19.4" fill="#000" text-anchor="start" >PARP inhibitor</text>
<rect x="89.60" y="593.6" width="103.92" height="18.60" fill="#d49000" stroke="#222" stroke-width="0.9"/>
<rect x="193.52" y="593.6" width="49.56" height="18.60" fill="#71ae00" stroke="#222" stroke-width="0.9"/>
<line x1="85" y1="602.90" x2="89.6" y2="602.90" stroke="#000" stroke-width="1.5" />
<text x="79.4" y="609.8000000000001" font-size="18.7" fill="#000" text-anchor="end" >10T</text>
<rect x="89.60" y="619.4" width="83.14" height="18.30" fill="#d49000" stroke="#222" stroke-width="0.9"/>
<rect x="172.74" y="619.4" width="9.36" height="18.30" fill="#71ae00" stroke="#222" stroke-width="0.9"/>
<line x1="85" y1="628.55" x2="89.6" y2="628.55" stroke="#000" stroke-width="1.5" />
<text x="79.4" y="635.4499999999999" font-size="18.7" fill="#000" text-anchor="end" >13T</text>
<rect x="89.60" y="645.2" width="11.19" height="19.30" fill="#d49000" stroke="#222" stroke-width="0.9"/>
<line x1="85" y1="654.85" x2="89.6" y2="654.85" stroke="#000" stroke-width="1.5" />
<text x="79.4" y="661.75" font-size="18.7" fill="#000" text-anchor="end" >74T</text>
<rect x="89.60" y="671.7" width="2.51" height="18.60" fill="#8a5a00" stroke="#222" stroke-width="0.9"/>
<rect x="92.11" y="671.7" width="5.48" height="18.60" fill="#71ae00" stroke="#222" stroke-width="0.9"/>
<line x1="85" y1="681.00" x2="89.6" y2="681.00" stroke="#000" stroke-width="1.5" />
<text x="79.4" y="687.9" font-size="18.7" fill="#000" text-anchor="end" >66T</text>
<line x1="89.6" y1="584.8" x2="89.6" y2="697.8" stroke="#000" stroke-width="2" />
<line x1="88.6" y1="696.8" x2="260.9" y2="696.8" stroke="#000" stroke-width="2" />
<line x1="89.60" y1="696.8" x2="89.60" y2="700.5" stroke="#000" stroke-width="1.8" />
<text x="89.60" y="720.6" font-size="19.4" fill="#000" text-anchor="middle" >0</text>
<line x1="146.70" y1="696.8" x2="146.70" y2="700.5" stroke="#000" stroke-width="1.8" />
<text x="146.70" y="720.6" font-size="19.4" fill="#000" text-anchor="middle" >2500</text>
<line x1="203.80" y1="696.8" x2="203.80" y2="700.5" stroke="#000" stroke-width="1.8" />
<text x="203.80" y="720.6" font-size="19.4" fill="#000" text-anchor="middle" >5000</text>
<line x1="260.90" y1="696.8" x2="260.90" y2="700.5" stroke="#000" stroke-width="1.8" />
<text x="260.90" y="720.6" font-size="19.4" fill="#000" text-anchor="middle" >7500</text>
<text x="74.4" y="748.8" font-size="19.1" fill="#000" text-anchor="start" >Total number of mutations</text>
<text x="98.3" y="769.2" font-size="19.4" fill="#000" text-anchor="start" >(signatures 3 and 8)</text>
<text transform="translate(35.8,640.5) rotate(-90)" font-size="19.4" fill="#000" text-anchor="middle">Organoid line</text>
<line x1="291.4" y1="601.9" x2="320.3" y2="601.9" stroke="#0f7f0f" stroke-width="2.4" />
<circle cx="305.80" cy="601.90" r="7.02" fill="#0f7f0f"/>
<line x1="291.4" y1="627.7" x2="320.3" y2="627.7" stroke="#0f7f0f" stroke-width="2.4" />
<rect x="300.28" y="622.18" width="11.04" height="11.04" fill="#0f7f0f"/>
<line x1="291.4" y1="654.2" x2="320.3" y2="654.2" stroke="#ff0000" stroke-width="2.4" />
<path d="M305.80,647.96 L312.04,654.20 L305.80,660.44 L299.56,654.20 Z" fill="#ff0000"/>
<line x1="291.4" y1="680.4" x2="320.3" y2="680.4" stroke="#ff0000" stroke-width="2.4" />
<path d="M305.80,673.80 L312.40,686.34 L299.20,686.34 Z" fill="#ff0000"/>
<text x="338.9" y="619.4" font-size="19.4" fill="#0f7f0f" text-anchor="start" >sensitive</text>
<text x="338.9" y="670.5" font-size="19.4" fill="#ff0000" text-anchor="start" >resistant</text>
<line x1="548.0" y1="549.3" x2="548.0" y2="718.7" stroke="#000" stroke-width="2" />
<line x1="541.6" y1="561.20" x2="548.0" y2="561.20" stroke="#000" stroke-width="1.8" />
<text x="537.0" y="567.00" font-size="19.5" fill="#000" text-anchor="end" >1.0</text>
<line x1="541.6" y1="632.20" x2="548.0" y2="632.20" stroke="#000" stroke-width="1.8" />
<text x="537.0" y="638.00" font-size="19.5" fill="#000" text-anchor="end" >0.5</text>
<line x1="541.6" y1="703.20" x2="548.0" y2="703.20" stroke="#000" stroke-width="1.8" />
<text x="537.0" y="709.00" font-size="19.5" fill="#000" text-anchor="end" >0.0</text>
<line x1="547.0" y1="717.7" x2="754.5890006674274" y2="717.7" stroke="#000" stroke-width="2" />
<line x1="555.01" y1="717.7" x2="555.01" y2="721.3000000000001" stroke="#000" stroke-width="1.6" />
<line x1="561.08" y1="717.7" x2="561.08" y2="721.3000000000001" stroke="#000" stroke-width="1.6" />
<line x1="566.22" y1="717.7" x2="566.22" y2="721.3000000000001" stroke="#000" stroke-width="1.6" />
<line x1="570.67" y1="717.7" x2="570.67" y2="721.3000000000001" stroke="#000" stroke-width="1.6" />
<line x1="574.59" y1="717.7" x2="574.59" y2="721.3000000000001" stroke="#000" stroke-width="1.6" />
<line x1="601.19" y1="717.7" x2="601.19" y2="721.3000000000001" stroke="#000" stroke-width="1.6" />
<line x1="614.70" y1="717.7" x2="614.70" y2="721.3000000000001" stroke="#000" stroke-width="1.6" />
<line x1="624.28" y1="717.7" x2="624.28" y2="721.3000000000001" stroke="#000" stroke-width="1.6" />
<line x1="631.71" y1="717.7" x2="631.71" y2="721.3000000000001" stroke="#000" stroke-width="1.6" />
<line x1="637.78" y1="717.7" x2="637.78" y2="721.3000000000001" stroke="#000" stroke-width="1.6" />
<line x1="642.92" y1="717.7" x2="642.92" y2="721.3000000000001" stroke="#000" stroke-width="1.6" />
<line x1="647.37" y1="717.7" x2="647.37" y2="721.3000000000001" stroke="#000" stroke-width="1.6" />
<line x1="651.29" y1="717.7" x2="651.29" y2="721.3000000000001" stroke="#000" stroke-width="1.6" />
<line x1="677.89" y1="717.7" x2="677.89" y2="721.3000000000001" stroke="#000" stroke-width="1.6" />
<line x1="691.40" y1="717.7" x2="691.40" y2="721.3000000000001" stroke="#000" stroke-width="1.6" />
<line x1="700.98" y1="717.7" x2="700.98" y2="721.3000000000001" stroke="#000" stroke-width="1.6" />
<line x1="708.41" y1="717.7" x2="708.41" y2="721.3000000000001" stroke="#000" stroke-width="1.6" />
<line x1="714.48" y1="717.7" x2="714.48" y2="721.3000000000001" stroke="#000" stroke-width="1.6" />
<line x1="719.62" y1="717.7" x2="719.62" y2="721.3000000000001" stroke="#000" stroke-width="1.6" />
<line x1="724.07" y1="717.7" x2="724.07" y2="721.3000000000001" stroke="#000" stroke-width="1.6" />
<line x1="727.99" y1="717.7" x2="727.99" y2="721.3000000000001" stroke="#000" stroke-width="1.6" />
<line x1="754.59" y1="717.7" x2="754.59" y2="721.3000000000001" stroke="#000" stroke-width="1.6" />
<line x1="578.10" y1="717.7" x2="578.10" y2="724.1" stroke="#000" stroke-width="1.8" />
<text x="578.10" y="749.3" font-size="19.4" fill="#000" text-anchor="middle" >1</text>
<line x1="654.80" y1="717.7" x2="654.80" y2="724.1" stroke="#000" stroke-width="1.8" />
<text x="654.80" y="749.3" font-size="19.4" fill="#000" text-anchor="middle" >10</text>
<line x1="731.50" y1="717.7" x2="731.50" y2="724.1" stroke="#000" stroke-width="1.8" />
<text x="731.50" y="749.3" font-size="19.4" fill="#000" text-anchor="middle" >100</text>
<text transform="translate(496,713.4) rotate(-90)" font-size="19.4" fill="#000">Viability vs&#160; DMSO</text>
<text x="596.5" y="769.8" font-size="19.01" fill="#000" text-anchor="start" >Olaparib (μM)</text>
<path d="M555.01,559.50 L556.11,559.50 L557.22,559.50 L558.32,559.50 L559.42,559.50 L560.53,559.50 L561.63,559.50 L562.73,559.50 L563.84,559.50 L564.94,559.50 L566.04,559.50 L567.14,559.50 L568.25,559.50 L569.35,559.50 L570.45,559.50 L571.56,559.50 L572.66,559.50 L573.76,559.50 L574.87,559.50 L575.97,559.50 L577.07,559.50 L578.18,559.50 L579.28,559.50 L580.38,559.50 L581.48,559.50 L582.59,559.50 L583.69,559.50 L584.79,559.50 L585.90,559.50 L587.00,559.50 L588.10,559.50 L589.21,559.50 L590.31,559.50 L591.41,559.50 L592.51,559.50 L593.62,559.50 L594.72,559.50 L595.82,559.50 L596.93,559.50 L598.03,559.50 L599.13,559.50 L600.24,559.50 L601.34,559.50 L602.44,559.50 L603.55,559.50 L604.65,559.50 L605.75,559.50 L606.85,559.50 L607.96,559.50 L609.06,559.50 L610.16,559.50 L611.27,559.50 L612.37,559.50 L613.47,559.50 L614.58,559.50 L615.68,559.50 L616.78,559.50 L617.89,559.50 L618.99,559.50 L620.09,559.50 L621.19,559.50 L622.30,559.50 L623.40,559.50 L624.50,559.50 L625.61,559.50 L626.71,559.50 L627.81,559.50 L628.92,559.50 L630.02,559.50 L631.12,559.50 L632.22,559.50 L633.33,559.50 L634.43,559.50 L635.53,559.50 L636.64,559.50 L637.74,559.50 L638.84,559.50 L639.95,559.50 L641.05,559.50 L642.15,559.50 L643.26,559.50 L644.36,559.50 L645.46,559.50 L646.56,559.50 L647.67,559.50 L648.77,559.50 L649.87,559.50 L650.98,559.50 L652.08,559.50 L653.18,559.50 L654.29,559.50 L655.39,559.50 L656.49,559.50 L657.60,559.50 L658.70,559.50 L659.80,559.50 L660.90,559.50 L662.01,559.50 L663.11,559.50 L664.21,559.50 L665.32,559.50 L666.42,559.50 L667.52,559.50 L668.63,559.50 L669.73,559.50 L670.83,559.50 L671.93,559.50 L673.04,559.50 L674.14,559.50 L675.24,559.50 L676.35,559.50 L677.45,559.50 L678.55,559.50 L679.66,559.50 L680.76,559.50 L681.86,559.50 L682.97,559.50 L684.07,559.50 L685.17,559.50 L686.27,559.50 L687.38,559.50 L688.48,559.51 L689.58,559.51 L690.69,559.53 L691.79,559.54 L692.89,559.57 L694.00,559.61 L695.10,559.68 L696.20,559.79 L697.31,559.97 L698.41,560.25 L699.51,560.68 L700.61,561.36 L701.72,562.41 L702.82,564.02 L703.92,566.41 L705.03,569.85 L706.13,574.58 L707.23,580.67 L708.34,587.87 L709.44,595.60 L710.54,603.05 L711.64,609.55 L712.75,614.74 L713.85,618.59 L714.95,621.31 L716.06,623.14 L717.16,624.36 L718.26,625.14 L719.37,625.65 L720.47,625.97 L721.57,626.17 L722.68,626.30 L723.78,626.38 L724.88,626.43 L725.98,626.47 L727.09,626.49 L728.19,626.50 L729.29,626.51 L730.40,626.51 L731.50,626.51" fill="none" stroke="#ff0000" stroke-width="2.2" stroke-linejoin="round"/>
<path d="M555.01,558.36 L556.11,558.36 L557.22,558.36 L558.32,558.36 L559.42,558.36 L560.53,558.36 L561.63,558.36 L562.73,558.36 L563.84,558.36 L564.94,558.36 L566.04,558.36 L567.14,558.36 L568.25,558.36 L569.35,558.36 L570.45,558.36 L571.56,558.36 L572.66,558.36 L573.76,558.36 L574.87,558.36 L575.97,558.36 L577.07,558.36 L578.18,558.36 L579.28,558.36 L580.38,558.36 L581.48,558.36 L582.59,558.36 L583.69,558.36 L584.79,558.37 L585.90,558.37 L587.00,558.37 L588.10,558.37 L589.21,558.37 L590.31,558.37 L591.41,558.37 L592.51,558.38 L593.62,558.38 L594.72,558.38 L595.82,558.38 L596.93,558.39 L598.03,558.39 L599.13,558.40 L600.24,558.40 L601.34,558.41 L602.44,558.42 L603.55,558.43 L604.65,558.44 L605.75,558.45 L606.85,558.47 L607.96,558.49 L609.06,558.51 L610.16,558.53 L611.27,558.56 L612.37,558.60 L613.47,558.63 L614.58,558.68 L615.68,558.73 L616.78,558.79 L617.89,558.86 L618.99,558.95 L620.09,559.04 L621.19,559.15 L622.30,559.28 L623.40,559.43 L624.50,559.61 L625.61,559.81 L626.71,560.05 L627.81,560.32 L628.92,560.63 L630.02,561.00 L631.12,561.42 L632.22,561.91 L633.33,562.48 L634.43,563.13 L635.53,563.87 L636.64,564.73 L637.74,565.71 L638.84,566.84 L639.95,568.12 L641.05,569.57 L642.15,571.21 L643.26,573.06 L644.36,575.14 L645.46,577.45 L646.56,580.01 L647.67,582.84 L648.77,585.92 L649.87,589.27 L650.98,592.87 L652.08,596.70 L653.18,600.74 L654.29,604.95 L655.39,609.31 L656.49,613.75 L657.60,618.23 L658.70,622.71 L659.80,627.12 L660.90,631.42 L662.01,635.56 L663.11,639.52 L664.21,643.25 L665.32,646.75 L666.42,649.98 L667.52,652.96 L668.63,655.67 L669.73,658.13 L670.83,660.34 L671.93,662.32 L673.04,664.08 L674.14,665.64 L675.24,667.02 L676.35,668.23 L677.45,669.30 L678.55,670.22 L679.66,671.03 L680.76,671.74 L681.86,672.35 L682.97,672.88 L684.07,673.34 L685.17,673.74 L686.27,674.08 L687.38,674.38 L688.48,674.64 L689.58,674.86 L690.69,675.05 L691.79,675.21 L692.89,675.35 L694.00,675.48 L695.10,675.58 L696.20,675.67 L697.31,675.75 L698.41,675.81 L699.51,675.87 L700.61,675.92 L701.72,675.96 L702.82,676.00 L703.92,676.03 L705.03,676.06 L706.13,676.08 L707.23,676.10 L708.34,676.12 L709.44,676.13 L710.54,676.14 L711.64,676.15 L712.75,676.16 L713.85,676.17 L714.95,676.18 L716.06,676.18 L717.16,676.19 L718.26,676.19 L719.37,676.20 L720.47,676.20 L721.57,676.20 L722.68,676.21 L723.78,676.21 L724.88,676.21 L725.98,676.21 L727.09,676.21 L728.19,676.21 L729.29,676.21 L730.40,676.22 L731.50,676.22" fill="none" stroke="#ff0000" stroke-width="2.2" stroke-linejoin="round"/>
<path d="M555.01,562.20 L556.11,562.27 L557.22,562.35 L558.32,562.42 L559.42,562.51 L560.53,562.59 L561.63,562.69 L562.73,562.79 L563.84,562.90 L564.94,563.01 L566.04,563.13 L567.14,563.26 L568.25,563.40 L569.35,563.55 L570.45,563.71 L571.56,563.88 L572.66,564.06 L573.76,564.25 L574.87,564.45 L575.97,564.67 L577.07,564.90 L578.18,565.15 L579.28,565.41 L580.38,565.69 L581.48,565.99 L582.59,566.30 L583.69,566.64 L584.79,566.99 L585.90,567.37 L587.00,567.78 L588.10,568.20 L589.21,568.66 L590.31,569.14 L591.41,569.65 L592.51,570.19 L593.62,570.76 L594.72,571.37 L595.82,572.01 L596.93,572.69 L598.03,573.41 L599.13,574.16 L600.24,574.96 L601.34,575.81 L602.44,576.69 L603.55,577.63 L604.65,578.61 L605.75,579.65 L606.85,580.73 L607.96,581.87 L609.06,583.06 L610.16,584.31 L611.27,585.61 L612.37,586.97 L613.47,588.39 L614.58,589.87 L615.68,591.40 L616.78,592.99 L617.89,594.64 L618.99,596.35 L620.09,598.12 L621.19,599.94 L622.30,601.81 L623.40,603.74 L624.50,605.72 L625.61,607.74 L626.71,609.81 L627.81,611.92 L628.92,614.06 L630.02,616.24 L631.12,618.45 L632.22,620.69 L633.33,622.95 L634.43,625.22 L635.53,627.50 L636.64,629.79 L637.74,632.09 L638.84,634.37 L639.95,636.65 L641.05,638.92 L642.15,641.17 L643.26,643.39 L644.36,645.59 L645.46,647.76 L646.56,649.89 L647.67,651.98 L648.77,654.03 L649.87,656.03 L650.98,657.98 L652.08,659.89 L653.18,661.74 L654.29,663.53 L655.39,665.27 L656.49,666.95 L657.60,668.58 L658.70,670.15 L659.80,671.65 L660.90,673.10 L662.01,674.50 L663.11,675.83 L664.21,677.11 L665.32,678.33 L666.42,679.50 L667.52,680.61 L668.63,681.67 L669.73,682.68 L670.83,683.65 L671.93,684.56 L673.04,685.43 L674.14,686.25 L675.24,687.03 L676.35,687.77 L677.45,688.47 L678.55,689.13 L679.66,689.76 L680.76,690.35 L681.86,690.91 L682.97,691.44 L684.07,691.93 L685.17,692.40 L686.27,692.84 L687.38,693.26 L688.48,693.65 L689.58,694.02 L690.69,694.37 L691.79,694.69 L692.89,695.00 L694.00,695.29 L695.10,695.56 L696.20,695.81 L697.31,696.05 L698.41,696.28 L699.51,696.49 L700.61,696.69 L701.72,696.87 L702.82,697.05 L703.92,697.21 L705.03,697.37 L706.13,697.51 L707.23,697.65 L708.34,697.77 L709.44,697.89 L710.54,698.00 L711.64,698.11 L712.75,698.20 L713.85,698.30 L714.95,698.38 L716.06,698.46 L717.16,698.54 L718.26,698.61 L719.37,698.68 L720.47,698.74 L721.57,698.80 L722.68,698.85 L723.78,698.90 L724.88,698.95 L725.98,698.99 L727.09,699.04 L728.19,699.07 L729.29,699.11 L730.40,699.15 L731.50,699.18" fill="none" stroke="#0f7f0f" stroke-width="2.2" stroke-linejoin="round"/>
<path d="M555.01,561.67 L556.11,561.72 L557.22,561.77 L558.32,561.83 L559.42,561.89 L560.53,561.96 L561.63,562.04 L562.73,562.12 L563.84,562.22 L564.94,562.32 L566.04,562.43 L567.14,562.55 L568.25,562.69 L569.35,562.83 L570.45,563.00 L571.56,563.18 L572.66,563.37 L573.76,563.59 L574.87,563.82 L575.97,564.08 L577.07,564.36 L578.18,564.68 L579.28,565.02 L580.38,565.39 L581.48,565.80 L582.59,566.24 L583.69,566.73 L584.79,567.27 L585.90,567.85 L587.00,568.48 L588.10,569.18 L589.21,569.93 L590.31,570.75 L591.41,571.64 L592.51,572.61 L593.62,573.65 L594.72,574.79 L595.82,576.01 L596.93,577.33 L598.03,578.75 L599.13,580.28 L600.24,581.92 L601.34,583.67 L602.44,585.54 L603.55,587.53 L604.65,589.64 L605.75,591.88 L606.85,594.24 L607.96,596.73 L609.06,599.33 L610.16,602.05 L611.27,604.88 L612.37,607.81 L613.47,610.83 L614.58,613.95 L615.68,617.13 L616.78,620.38 L617.89,623.68 L618.99,627.00 L620.09,630.35 L621.19,633.70 L622.30,637.04 L623.40,640.35 L624.50,643.62 L625.61,646.83 L626.71,649.97 L627.81,653.03 L628.92,656.00 L630.02,658.87 L631.12,661.63 L632.22,664.28 L633.33,666.81 L634.43,669.21 L635.53,671.50 L636.64,673.66 L637.74,675.70 L638.84,677.61 L639.95,679.41 L641.05,681.09 L642.15,682.66 L643.26,684.12 L644.36,685.48 L645.46,686.74 L646.56,687.91 L647.67,688.99 L648.77,689.98 L649.87,690.90 L650.98,691.75 L652.08,692.53 L653.18,693.24 L654.29,693.90 L655.39,694.50 L656.49,695.05 L657.60,695.56 L658.70,696.02 L659.80,696.44 L660.90,696.83 L662.01,697.18 L663.11,697.51 L664.21,697.80 L665.32,698.07 L666.42,698.31 L667.52,698.53 L668.63,698.74 L669.73,698.92 L670.83,699.09 L671.93,699.24 L673.04,699.38 L674.14,699.51 L675.24,699.63 L676.35,699.73 L677.45,699.83 L678.55,699.92 L679.66,699.99 L680.76,700.07 L681.86,700.13 L682.97,700.19 L684.07,700.25 L685.17,700.30 L686.27,700.34 L687.38,700.38 L688.48,700.42 L689.58,700.45 L690.69,700.48 L691.79,700.51 L692.89,700.54 L694.00,700.56 L695.10,700.58 L696.20,700.60 L697.31,700.62 L698.41,700.63 L699.51,700.64 L700.61,700.66 L701.72,700.67 L702.82,700.68 L703.92,700.69 L705.03,700.70 L706.13,700.71 L707.23,700.71 L708.34,700.72 L709.44,700.73 L710.54,700.73 L711.64,700.74 L712.75,700.74 L713.85,700.75 L714.95,700.75 L716.06,700.75 L717.16,700.76 L718.26,700.76 L719.37,700.76 L720.47,700.76 L721.57,700.77 L722.68,700.77 L723.78,700.77 L724.88,700.77 L725.98,700.77 L727.09,700.77 L728.19,700.77 L729.29,700.78 L730.40,700.78 L731.50,700.78" fill="none" stroke="#0f7f0f" stroke-width="2.2" stroke-linejoin="round"/>
<line x1="555.01" y1="555.52" x2="555.01" y2="566.88" stroke="#0f7f0f" stroke-width="1.4" />
<line x1="550.76" y1="555.52" x2="559.26" y2="555.52" stroke="#0f7f0f" stroke-width="1.4" />
<line x1="550.76" y1="566.88" x2="559.26" y2="566.88" stroke="#0f7f0f" stroke-width="1.4" />
<line x1="631.71" y1="556.94" x2="631.71" y2="573.98" stroke="#ff0000" stroke-width="1.4" />
<line x1="627.46" y1="556.94" x2="635.96" y2="556.94" stroke="#ff0000" stroke-width="1.4" />
<line x1="627.46" y1="573.98" x2="635.96" y2="573.98" stroke="#ff0000" stroke-width="1.4" />
<line x1="654.80" y1="547.00" x2="654.80" y2="570.43" stroke="#ff0000" stroke-width="1.4" />
<line x1="650.55" y1="547.00" x2="659.05" y2="547.00" stroke="#ff0000" stroke-width="1.4" />
<line x1="650.55" y1="570.43" x2="659.05" y2="570.43" stroke="#ff0000" stroke-width="1.4" />
<line x1="708.41" y1="581.08" x2="708.41" y2="593.86" stroke="#ff0000" stroke-width="1.4" />
<line x1="704.16" y1="581.08" x2="712.66" y2="581.08" stroke="#ff0000" stroke-width="1.4" />
<line x1="704.16" y1="593.86" x2="712.66" y2="593.86" stroke="#ff0000" stroke-width="1.4" />
<line x1="708.41" y1="592.44" x2="708.41" y2="595.28" stroke="#ff0000" stroke-width="1.4" />
<line x1="704.16" y1="592.44" x2="712.66" y2="592.44" stroke="#ff0000" stroke-width="1.4" />
<line x1="704.16" y1="595.28" x2="712.66" y2="595.28" stroke="#ff0000" stroke-width="1.4" />
<line x1="654.80" y1="662.02" x2="654.80" y2="671.96" stroke="#0f7f0f" stroke-width="1.4" />
<line x1="650.55" y1="662.02" x2="659.05" y2="662.02" stroke="#0f7f0f" stroke-width="1.4" />
<line x1="650.55" y1="671.96" x2="659.05" y2="671.96" stroke="#0f7f0f" stroke-width="1.4" />
<path d="M578.10,548.33 L583.30,553.53 L578.10,558.73 L572.90,553.53 Z" fill="#ff0000"/>
<path d="M631.71,559.83 L636.91,565.03 L631.71,570.23 L626.51,565.03 Z" fill="#ff0000"/>
<path d="M654.80,603.29 L660.00,608.49 L654.80,613.69 L649.60,608.49 Z" fill="#ff0000"/>
<path d="M708.41,666.76 L713.61,671.96 L708.41,677.16 L703.21,671.96 Z" fill="#ff0000"/>
<path d="M731.50,673.15 L736.70,678.35 L731.50,683.55 L726.30,678.35 Z" fill="#ff0000"/>
<path d="M631.71,551.87 L637.21,562.32 L626.21,562.32 Z" fill="#ff0000"/>
<path d="M654.80,554.28 L660.30,564.73 L649.30,564.73 Z" fill="#ff0000"/>
<path d="M708.41,582.68 L713.91,593.13 L702.91,593.13 Z" fill="#ff0000"/>
<path d="M731.50,622.44 L737.00,632.89 L726.00,632.89 Z" fill="#ff0000"/>
<rect x="550.41" y="556.60" width="9.20" height="9.20" fill="#0f7f0f"/>
<rect x="573.50" y="562.14" width="9.20" height="9.20" fill="#0f7f0f"/>
<rect x="627.11" y="615.25" width="9.20" height="9.20" fill="#0f7f0f"/>
<rect x="650.20" y="662.25" width="9.20" height="9.20" fill="#0f7f0f"/>
<rect x="703.81" y="695.05" width="9.20" height="9.20" fill="#0f7f0f"/>
<rect x="726.90" y="695.76" width="9.20" height="9.20" fill="#0f7f0f"/>
<circle cx="555.01" cy="560.49" r="5.20" fill="#0f7f0f"/>
<circle cx="578.10" cy="565.46" r="5.20" fill="#0f7f0f"/>
<circle cx="631.71" cy="662.73" r="5.20" fill="#0f7f0f"/>
<circle cx="654.80" cy="695.39" r="5.20" fill="#0f7f0f"/>
<circle cx="708.41" cy="701.50" r="5.20" fill="#0f7f0f"/>
<circle cx="731.50" cy="701.78" r="5.20" fill="#0f7f0f"/>
<line x1="862.8" y1="549.6" x2="862.8" y2="719.0" stroke="#000" stroke-width="2" />
<line x1="856.4" y1="561.50" x2="862.8" y2="561.50" stroke="#000" stroke-width="1.8" />
<text x="851.8" y="567.30" font-size="19.5" fill="#000" text-anchor="end" >1.0</text>
<line x1="856.4" y1="632.50" x2="862.8" y2="632.50" stroke="#000" stroke-width="1.8" />
<text x="851.8" y="638.30" font-size="19.5" fill="#000" text-anchor="end" >0.5</text>
<line x1="856.4" y1="703.50" x2="862.8" y2="703.50" stroke="#000" stroke-width="1.8" />
<text x="851.8" y="709.30" font-size="19.5" fill="#000" text-anchor="end" >0.0</text>
<line x1="861.8" y1="718.0" x2="1069.4492066665603" y2="718.0" stroke="#000" stroke-width="2" />
<line x1="869.35" y1="718.0" x2="869.35" y2="721.6" stroke="#000" stroke-width="1.6" />
<line x1="875.44" y1="718.0" x2="875.44" y2="721.6" stroke="#000" stroke-width="1.6" />
<line x1="880.59" y1="718.0" x2="880.59" y2="721.6" stroke="#000" stroke-width="1.6" />
<line x1="885.05" y1="718.0" x2="885.05" y2="721.6" stroke="#000" stroke-width="1.6" />
<line x1="888.98" y1="718.0" x2="888.98" y2="721.6" stroke="#000" stroke-width="1.6" />
<line x1="915.65" y1="718.0" x2="915.65" y2="721.6" stroke="#000" stroke-width="1.6" />
<line x1="929.19" y1="718.0" x2="929.19" y2="721.6" stroke="#000" stroke-width="1.6" />
<line x1="938.80" y1="718.0" x2="938.80" y2="721.6" stroke="#000" stroke-width="1.6" />
<line x1="946.25" y1="718.0" x2="946.25" y2="721.6" stroke="#000" stroke-width="1.6" />
<line x1="952.34" y1="718.0" x2="952.34" y2="721.6" stroke="#000" stroke-width="1.6" />
<line x1="957.49" y1="718.0" x2="957.49" y2="721.6" stroke="#000" stroke-width="1.6" />
<line x1="961.95" y1="718.0" x2="961.95" y2="721.6" stroke="#000" stroke-width="1.6" />
<line x1="965.88" y1="718.0" x2="965.88" y2="721.6" stroke="#000" stroke-width="1.6" />
<line x1="992.55" y1="718.0" x2="992.55" y2="721.6" stroke="#000" stroke-width="1.6" />
<line x1="1006.09" y1="718.0" x2="1006.09" y2="721.6" stroke="#000" stroke-width="1.6" />
<line x1="1015.70" y1="718.0" x2="1015.70" y2="721.6" stroke="#000" stroke-width="1.6" />
<line x1="1023.15" y1="718.0" x2="1023.15" y2="721.6" stroke="#000" stroke-width="1.6" />
<line x1="1029.24" y1="718.0" x2="1029.24" y2="721.6" stroke="#000" stroke-width="1.6" />
<line x1="1034.39" y1="718.0" x2="1034.39" y2="721.6" stroke="#000" stroke-width="1.6" />
<line x1="1038.85" y1="718.0" x2="1038.85" y2="721.6" stroke="#000" stroke-width="1.6" />
<line x1="1042.78" y1="718.0" x2="1042.78" y2="721.6" stroke="#000" stroke-width="1.6" />
<line x1="1069.45" y1="718.0" x2="1069.45" y2="721.6" stroke="#000" stroke-width="1.6" />
<line x1="892.50" y1="718.0" x2="892.50" y2="724.4" stroke="#000" stroke-width="1.8" />
<text x="892.50" y="749.3" font-size="19.4" fill="#000" text-anchor="middle" >0.1</text>
<line x1="969.40" y1="718.0" x2="969.40" y2="724.4" stroke="#000" stroke-width="1.8" />
<text x="969.40" y="749.3" font-size="19.4" fill="#000" text-anchor="middle" >1</text>
<line x1="1046.30" y1="718.0" x2="1046.30" y2="724.4" stroke="#000" stroke-width="1.8" />
<text x="1046.30" y="749.3" font-size="19.4" fill="#000" text-anchor="middle" >10</text>
<text transform="translate(811.3,713.4) rotate(-90)" font-size="19.4" fill="#000">Viability vs&#160; DMSO</text>
<text x="909.0" y="769.8" font-size="19.01" fill="#000" text-anchor="start" >Niraparib (μM)</text>
<path d="M870.10,572.80 C878.42,572.83 907.32,572.92 920.00,573.00 C932.68,573.08 939.20,573.13 946.20,573.30 C953.20,573.47 958.37,573.55 962.00,574.00 C965.63,574.45 966.58,574.67 968.00,576.00 C969.42,577.33 969.83,579.00 970.50,582.00 C971.17,585.00 971.42,590.58 972.00,594.00 C972.58,597.42 973.00,600.63 974.00,602.50 C975.00,604.37 975.33,604.70 978.00,605.20 C980.67,605.70 978.58,605.45 990.00,605.50 C1001.42,605.55 1037.08,605.50 1046.50,605.50" fill="none" stroke="#ff0000" stroke-width="2.2"/>
<path d="M870.10,582.60 C878.42,582.42 907.32,582.02 920.00,581.50 C932.68,580.98 937.97,580.33 946.20,579.50 C954.43,578.67 962.93,577.58 969.40,576.50 C975.87,575.42 978.23,573.83 985.00,573.00 C991.77,572.17 999.75,571.78 1010.00,571.50 C1020.25,571.22 1040.42,571.33 1046.50,571.30" fill="none" stroke="#ff0000" stroke-width="2.2"/>
<path d="M869.60,560.10 C873.42,560.05 883.77,559.02 892.50,559.80 C901.23,560.58 913.05,562.82 922.00,564.80 C930.95,566.78 938.32,569.33 946.20,571.70 C954.08,574.07 963.18,575.03 969.30,579.00 C975.42,582.97 978.80,589.10 982.90,595.50 C987.00,601.90 990.25,609.00 993.90,617.40 C997.55,625.80 1001.15,635.67 1004.80,645.90 C1008.45,656.13 1012.77,671.05 1015.80,678.80 C1018.83,686.55 1020.07,688.92 1023.00,692.40 C1025.93,695.88 1029.67,698.12 1033.40,699.70 C1037.13,701.28 1043.40,701.53 1045.40,701.90" fill="none" stroke="#0f7f0f" stroke-width="2.2"/>
<path d="M869.60,564.80 C873.42,565.05 883.77,565.67 892.50,566.30 C901.23,566.93 913.05,567.43 922.00,568.60 C930.95,569.77 938.32,571.40 946.20,573.30 C954.08,575.20 963.18,576.85 969.30,580.00 C975.42,583.15 978.80,588.12 982.90,592.20 C987.00,596.28 990.25,599.12 993.90,604.50 C997.55,609.88 1001.15,616.75 1004.80,624.50 C1008.45,632.25 1012.77,643.58 1015.80,651.00 C1018.83,658.42 1020.07,663.08 1023.00,669.00 C1025.93,674.92 1029.67,681.20 1033.40,686.50 C1037.13,691.80 1043.40,698.42 1045.40,700.80" fill="none" stroke="#0f7f0f" stroke-width="2.2"/>
<line x1="869.35" y1="548.44" x2="869.35" y2="573.71" stroke="#ff0000" stroke-width="1.4" />
<line x1="865.10" y1="548.44" x2="873.60" y2="548.44" stroke="#ff0000" stroke-width="1.4" />
<line x1="865.10" y1="573.71" x2="873.60" y2="573.71" stroke="#ff0000" stroke-width="1.4" />
<line x1="869.35" y1="553.55" x2="869.35" y2="569.17" stroke="#ff0000" stroke-width="1.4" />
<line x1="865.10" y1="553.55" x2="873.60" y2="553.55" stroke="#ff0000" stroke-width="1.4" />
<line x1="865.10" y1="569.17" x2="873.60" y2="569.17" stroke="#ff0000" stroke-width="1.4" />
<line x1="869.35" y1="550.71" x2="869.35" y2="572.01" stroke="#0f7f0f" stroke-width="1.4" />
<line x1="865.10" y1="550.71" x2="873.60" y2="550.71" stroke="#0f7f0f" stroke-width="1.4" />
<line x1="865.10" y1="572.01" x2="873.60" y2="572.01" stroke="#0f7f0f" stroke-width="1.4" />
<line x1="892.50" y1="571.44" x2="892.50" y2="629.66" stroke="#ff0000" stroke-width="1.4" />
<line x1="888.25" y1="571.44" x2="896.75" y2="571.44" stroke="#ff0000" stroke-width="1.4" />
<line x1="888.25" y1="629.66" x2="896.75" y2="629.66" stroke="#ff0000" stroke-width="1.4" />
<line x1="892.50" y1="619.72" x2="892.50" y2="619.72" stroke="#ff0000" stroke-width="1.4" />
<line x1="888.25" y1="619.72" x2="896.75" y2="619.72" stroke="#ff0000" stroke-width="1.4" />
<line x1="888.25" y1="619.72" x2="896.75" y2="619.72" stroke="#ff0000" stroke-width="1.4" />
<line x1="892.50" y1="560.08" x2="892.50" y2="581.95" stroke="#0f7f0f" stroke-width="1.4" />
<line x1="888.25" y1="560.08" x2="896.75" y2="560.08" stroke="#0f7f0f" stroke-width="1.4" />
<line x1="888.25" y1="581.95" x2="896.75" y2="581.95" stroke="#0f7f0f" stroke-width="1.4" />
<line x1="946.25" y1="556.53" x2="946.25" y2="643.01" stroke="#ff0000" stroke-width="1.4" />
<line x1="942.00" y1="556.53" x2="950.50" y2="556.53" stroke="#ff0000" stroke-width="1.4" />
<line x1="942.00" y1="643.01" x2="950.50" y2="643.01" stroke="#ff0000" stroke-width="1.4" />
<line x1="946.25" y1="554.54" x2="946.25" y2="591.75" stroke="#0f7f0f" stroke-width="1.4" />
<line x1="942.00" y1="554.54" x2="950.50" y2="554.54" stroke="#0f7f0f" stroke-width="1.4" />
<line x1="942.00" y1="591.75" x2="950.50" y2="591.75" stroke="#0f7f0f" stroke-width="1.4" />
<line x1="946.25" y1="562.64" x2="946.25" y2="581.66" stroke="#0f7f0f" stroke-width="1.4" />
<line x1="942.00" y1="562.64" x2="950.50" y2="562.64" stroke="#0f7f0f" stroke-width="1.4" />
<line x1="942.00" y1="581.66" x2="950.50" y2="581.66" stroke="#0f7f0f" stroke-width="1.4" />
<line x1="969.40" y1="571.44" x2="969.40" y2="587.06" stroke="#0f7f0f" stroke-width="1.4" />
<line x1="965.15" y1="571.44" x2="973.65" y2="571.44" stroke="#0f7f0f" stroke-width="1.4" />
<line x1="965.15" y1="587.06" x2="973.65" y2="587.06" stroke="#0f7f0f" stroke-width="1.4" />
<line x1="969.40" y1="575.70" x2="969.40" y2="588.48" stroke="#ff0000" stroke-width="1.4" />
<line x1="965.15" y1="575.70" x2="973.65" y2="575.70" stroke="#ff0000" stroke-width="1.4" />
<line x1="965.15" y1="588.48" x2="973.65" y2="588.48" stroke="#ff0000" stroke-width="1.4" />
<line x1="1046.30" y1="604.10" x2="1046.30" y2="621.14" stroke="#ff0000" stroke-width="1.4" />
<line x1="1042.05" y1="604.10" x2="1050.55" y2="604.10" stroke="#ff0000" stroke-width="1.4" />
<line x1="1042.05" y1="621.14" x2="1050.55" y2="621.14" stroke="#ff0000" stroke-width="1.4" />
<path d="M892.50,583.99 L897.70,589.19 L892.50,594.39 L887.30,589.19 Z" fill="#ff0000"/>
<path d="M946.25,562.26 L951.45,567.46 L946.25,572.66 L941.05,567.46 Z" fill="#ff0000"/>
<path d="M969.40,573.34 L974.60,578.54 L969.40,583.74 L964.20,578.54 Z" fill="#ff0000"/>
<path d="M1023.15,593.65 L1028.35,598.85 L1023.15,604.05 L1017.95,598.85 Z" fill="#ff0000"/>
<path d="M1046.30,607.42 L1051.50,612.62 L1046.30,617.82 L1041.10,612.62 Z" fill="#ff0000"/>
<path d="M892.50,602.58 L898.00,613.03 L887.00,613.03 Z" fill="#ff0000"/>
<path d="M946.25,594.91 L951.75,605.36 L940.75,605.36 Z" fill="#ff0000"/>
<path d="M969.40,557.42 L974.90,567.87 L963.90,567.87 Z" fill="#ff0000"/>
<path d="M1023.15,570.20 L1028.65,580.65 L1017.65,580.65 Z" fill="#ff0000"/>
<path d="M1046.30,576.87 L1051.80,587.32 L1040.80,587.32 Z" fill="#ff0000"/>
<rect x="864.75" y="556.90" width="9.20" height="9.20" fill="#0f7f0f"/>
<rect x="887.90" y="566.41" width="9.20" height="9.20" fill="#0f7f0f"/>
<rect x="941.65" y="569.68" width="9.20" height="9.20" fill="#0f7f0f"/>
<rect x="964.80" y="575.36" width="9.20" height="9.20" fill="#0f7f0f"/>
<rect x="1018.55" y="664.39" width="9.20" height="9.20" fill="#0f7f0f"/>
<rect x="1041.70" y="697.20" width="9.20" height="9.20" fill="#0f7f0f"/>
<circle cx="869.35" cy="560.93" r="5.20" fill="#0f7f0f"/>
<circle cx="892.50" cy="559.37" r="5.20" fill="#0f7f0f"/>
<circle cx="946.25" cy="573.29" r="5.20" fill="#0f7f0f"/>
<circle cx="969.40" cy="578.97" r="5.20" fill="#0f7f0f"/>
<circle cx="1023.15" cy="692.42" r="5.20" fill="#0f7f0f"/>
<circle cx="1046.30" cy="701.94" r="5.20" fill="#0f7f0f"/>
</svg></body></html>
